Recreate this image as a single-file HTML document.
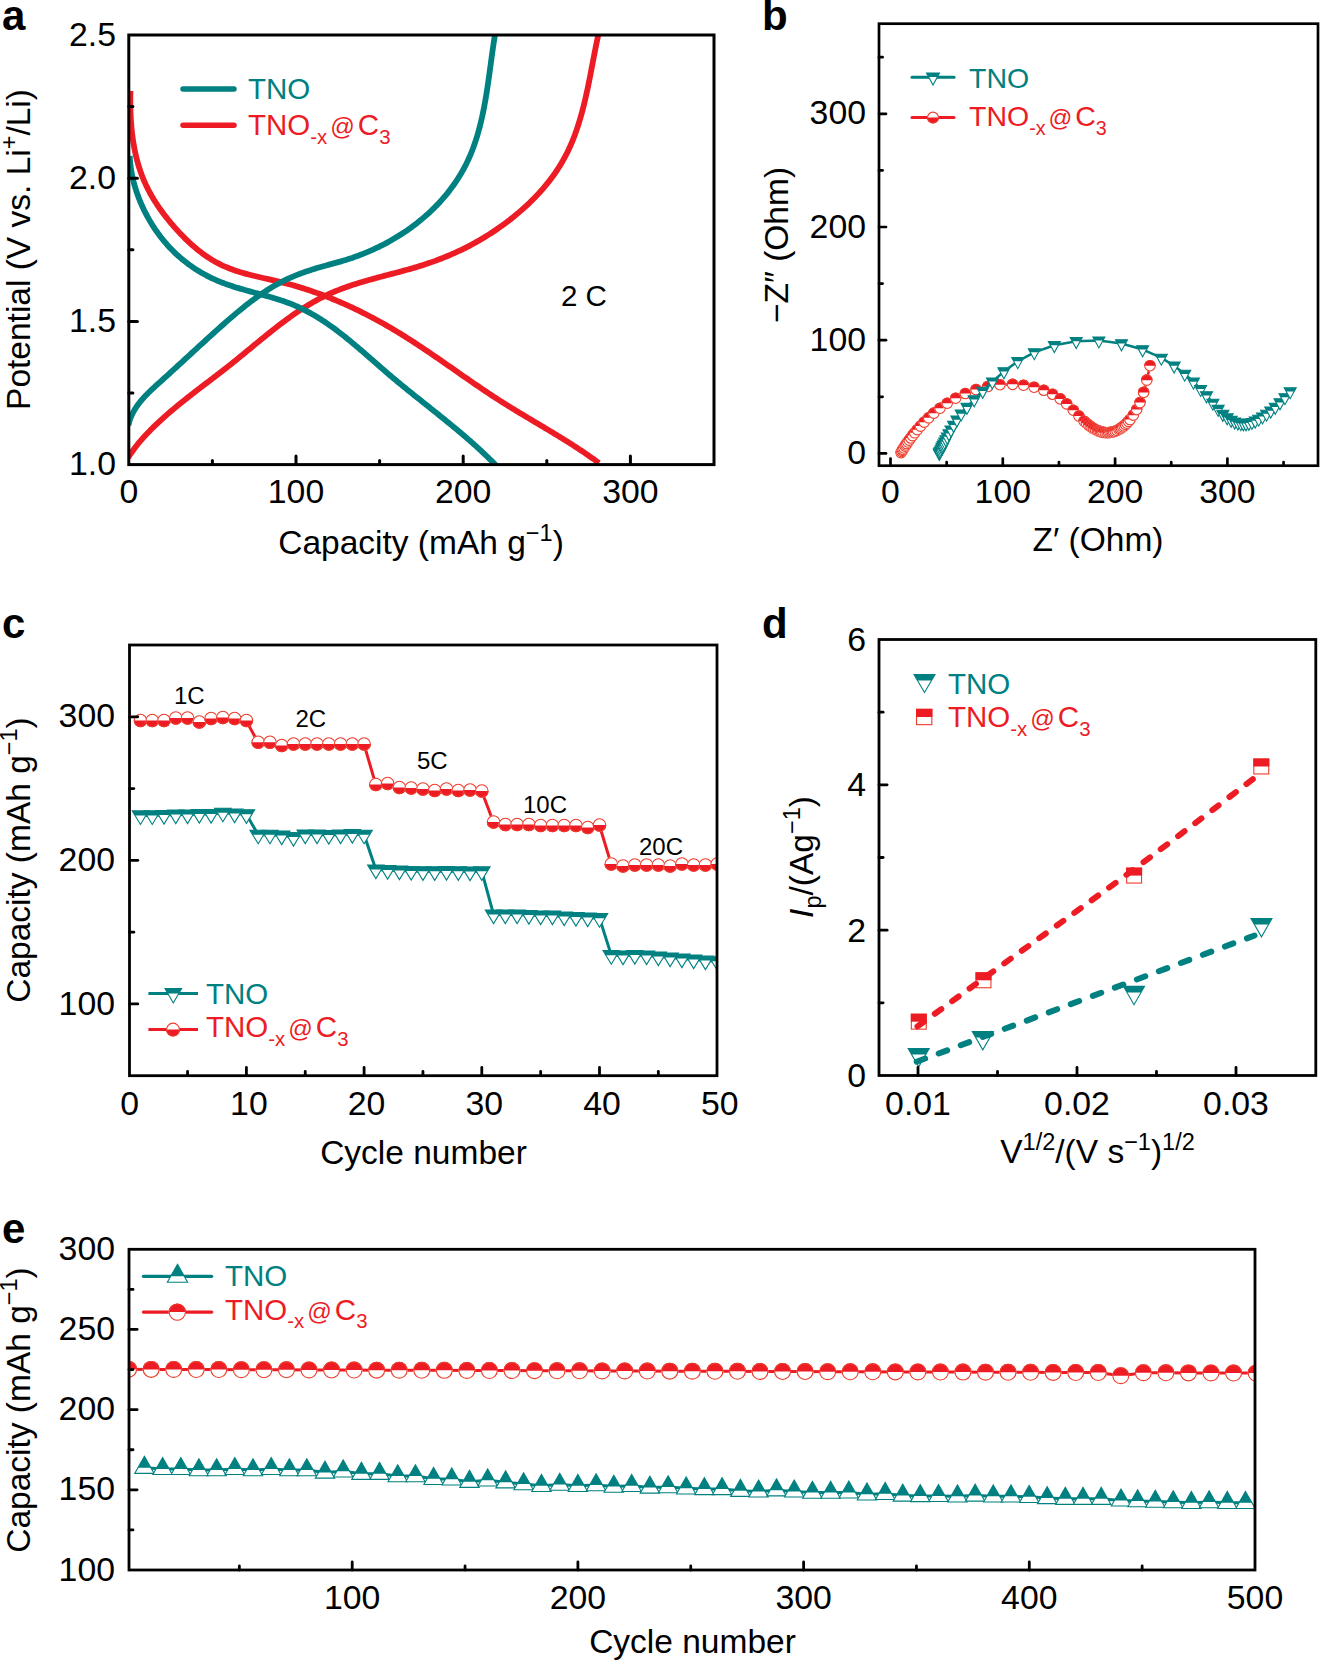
<!DOCTYPE html>
<html><head><meta charset="utf-8"><style>
html,body{margin:0;padding:0;background:#fff;overflow:hidden;}
svg{display:block;}
text{font-family:"Liberation Sans", sans-serif;}
</style></head><body>
<svg width="1320" height="1661" viewBox="0 0 1320 1661">
<defs><clipPath id="ca"><rect x="128.8" y="35" width="585.2" height="429.6"/></clipPath><clipPath id="cb"><rect x="879" y="23.7" width="439" height="442"/></clipPath><clipPath id="cc"><rect x="129.5" y="645" width="587.5" height="430.7"/></clipPath><clipPath id="ce"><rect x="129" y="1249.3" width="1126" height="320.7"/></clipPath></defs>
<g clip-path="url(#ca)"><path d="M130.46,91.00 L130.41,93.08 L130.37,95.17 L130.34,97.26 L130.32,99.37 L130.32,101.48 L130.33,103.59 L130.35,105.71 L130.39,107.84 L130.44,109.97 L130.50,112.11 L130.59,114.24 L130.69,116.38 L130.80,118.53 L130.93,120.67 L131.08,122.82 L131.25,124.96 L131.43,127.11 L131.64,129.25 L131.86,131.40 L132.10,133.54 L132.37,135.68 L132.65,137.82 L132.95,139.95 L133.28,142.08 L133.63,144.20 L134.00,146.32 L134.39,148.44 L134.81,150.55 L135.25,152.65 L135.71,154.74 L136.20,156.83 L136.72,158.90 L137.25,160.97 L137.82,163.03 L138.41,165.08 L139.03,167.11 L139.68,169.14 L140.35,171.15 L141.06,173.15 L141.79,175.14 L142.55,177.12 L143.34,179.08 L144.16,181.02 L145.01,182.95 L145.89,184.87 L146.80,186.77 L147.74,188.66 L148.70,190.53 L149.70,192.39 L150.72,194.24 L151.76,196.07 L152.83,197.89 L153.93,199.70 L155.05,201.50 L156.19,203.28 L157.36,205.05 L158.55,206.80 L159.76,208.55 L160.99,210.29 L162.24,212.01 L163.52,213.72 L164.81,215.42 L166.13,217.11 L167.46,218.79 L168.81,220.46 L170.17,222.12 L171.56,223.77 L172.96,225.41 L174.38,227.04 L175.81,228.66 L177.26,230.27 L178.72,231.86 L180.20,233.45 L181.70,235.01 L183.21,236.56 L184.74,238.10 L186.29,239.62 L187.85,241.11 L189.43,242.59 L191.02,244.05 L192.63,245.49 L194.26,246.90 L195.90,248.29 L197.56,249.65 L199.24,250.99 L200.93,252.30 L202.65,253.58 L204.37,254.83 L206.12,256.05 L207.88,257.24 L209.66,258.40 L211.45,259.53 L213.27,260.62 L215.10,261.67 L216.94,262.69 L218.81,263.67 L220.69,264.61 L222.59,265.52 L224.50,266.38 L226.43,267.21 L228.38,268.01 L230.34,268.77 L232.31,269.51 L234.30,270.21 L236.30,270.89 L238.31,271.54 L240.33,272.16 L242.36,272.77 L244.40,273.36 L246.45,273.92 L248.51,274.47 L250.57,275.00 L252.64,275.53 L254.72,276.03 L256.80,276.53 L258.88,277.02 L260.97,277.51 L263.06,277.98 L265.16,278.46 L267.25,278.93 L269.35,279.41 L271.44,279.88 L273.54,280.36 L275.63,280.84 L277.72,281.33 L279.81,281.83 L281.89,282.34 L283.97,282.87 L286.05,283.40 L288.12,283.95 L290.18,284.51 L292.24,285.08 L294.30,285.66 L296.35,286.26 L298.40,286.87 L300.44,287.48 L302.48,288.12 L304.52,288.76 L306.55,289.41 L308.57,290.08 L310.59,290.76 L312.61,291.45 L314.62,292.15 L316.62,292.86 L318.63,293.58 L320.62,294.32 L322.62,295.06 L324.61,295.82 L326.59,296.58 L328.57,297.36 L330.55,298.15 L332.52,298.94 L334.48,299.75 L336.44,300.57 L338.40,301.40 L340.36,302.24 L342.30,303.08 L344.25,303.94 L346.19,304.81 L348.13,305.69 L350.06,306.58 L351.98,307.47 L353.91,308.38 L355.83,309.29 L357.74,310.22 L359.65,311.15 L361.55,312.10 L363.46,313.05 L365.35,314.01 L367.25,314.98 L369.13,315.96 L371.02,316.95 L372.90,317.94 L374.77,318.94 L376.65,319.96 L378.51,320.98 L380.38,322.01 L382.23,323.04 L384.09,324.09 L385.94,325.14 L387.79,326.20 L389.63,327.27 L391.47,328.35 L393.30,329.43 L395.13,330.52 L396.95,331.62 L398.77,332.72 L400.59,333.84 L402.41,334.96 L404.21,336.08 L406.02,337.21 L407.82,338.35 L409.62,339.50 L411.41,340.65 L413.21,341.81 L414.99,342.97 L416.78,344.14 L418.56,345.31 L420.34,346.49 L422.12,347.67 L423.89,348.85 L425.67,350.04 L427.44,351.24 L429.20,352.43 L430.97,353.63 L432.73,354.84 L434.50,356.05 L436.26,357.25 L438.02,358.47 L439.78,359.68 L441.53,360.90 L443.29,362.11 L445.04,363.33 L446.80,364.55 L448.55,365.77 L450.31,366.99 L452.06,368.22 L453.81,369.44 L455.57,370.66 L457.32,371.88 L459.07,373.11 L460.83,374.33 L462.58,375.55 L464.34,376.77 L466.09,377.99 L467.85,379.20 L469.61,380.42 L471.36,381.63 L473.12,382.84 L474.89,384.05 L476.65,385.26 L478.41,386.46 L480.18,387.66 L481.95,388.86 L483.72,390.05 L485.49,391.24 L487.27,392.42 L489.04,393.60 L490.82,394.78 L492.61,395.95 L494.39,397.12 L496.18,398.28 L497.97,399.43 L499.77,400.58 L501.57,401.73 L503.37,402.87 L505.18,404.00 L506.98,405.13 L508.79,406.25 L510.61,407.37 L512.42,408.49 L514.24,409.60 L516.06,410.70 L517.88,411.81 L519.71,412.91 L521.53,414.01 L523.36,415.10 L525.19,416.20 L527.02,417.29 L528.84,418.38 L530.68,419.47 L532.51,420.56 L534.34,421.65 L536.17,422.74 L538.00,423.83 L539.83,424.92 L541.66,426.01 L543.49,427.10 L545.32,428.19 L547.15,429.28 L548.97,430.38 L550.80,431.48 L552.62,432.58 L554.45,433.68 L556.27,434.78 L558.09,435.89 L559.90,437.01 L561.72,438.12 L563.53,439.24 L565.34,440.37 L567.15,441.50 L568.95,442.64 L570.75,443.78 L572.55,444.92 L574.34,446.08 L576.13,447.24 L577.92,448.40 L579.70,449.58 L581.48,450.76 L583.25,451.94 L585.02,453.14 L586.79,454.34 L588.55,455.55 L590.30,456.78 L592.05,458.01 L593.79,459.24 L595.53,460.49 L597.26,461.75 L598.99,463.02" fill="none" stroke="#ed1c24" stroke-width="5.8" stroke-linejoin="round"/><path d="M128.36,457.42 L129.53,455.52 L130.74,453.65 L131.99,451.81 L133.28,449.99 L134.59,448.20 L135.94,446.43 L137.32,444.68 L138.73,442.95 L140.16,441.25 L141.61,439.56 L143.09,437.89 L144.59,436.25 L146.11,434.61 L147.64,433.00 L149.19,431.40 L150.75,429.81 L152.32,428.24 L153.91,426.68 L155.51,425.13 L157.12,423.60 L158.74,422.08 L160.37,420.57 L162.01,419.07 L163.66,417.58 L165.32,416.10 L166.99,414.63 L168.67,413.17 L170.35,411.72 L172.05,410.28 L173.75,408.85 L175.46,407.42 L177.18,406.00 L178.90,404.59 L180.63,403.19 L182.37,401.79 L184.11,400.39 L185.86,399.00 L187.62,397.62 L189.37,396.24 L191.14,394.86 L192.90,393.49 L194.67,392.12 L196.45,390.75 L198.23,389.38 L200.01,388.02 L201.79,386.66 L203.57,385.29 L205.36,383.93 L207.15,382.57 L208.93,381.21 L210.72,379.84 L212.51,378.48 L214.30,377.11 L216.09,375.74 L217.88,374.37 L219.67,372.99 L221.45,371.61 L223.24,370.23 L225.02,368.84 L226.80,367.45 L228.58,366.05 L230.35,364.65 L232.12,363.24 L233.89,361.82 L235.66,360.40 L237.42,358.98 L239.18,357.55 L240.94,356.11 L242.69,354.67 L244.44,353.23 L246.20,351.79 L247.95,350.35 L249.70,348.90 L251.45,347.46 L253.20,346.02 L254.95,344.57 L256.71,343.13 L258.46,341.69 L260.21,340.25 L261.97,338.82 L263.72,337.39 L265.48,335.96 L267.24,334.54 L269.01,333.12 L270.78,331.71 L272.55,330.31 L274.32,328.91 L276.10,327.53 L277.88,326.15 L279.67,324.78 L281.46,323.41 L283.25,322.06 L285.06,320.72 L286.86,319.39 L288.68,318.08 L290.50,316.77 L292.32,315.48 L294.16,314.20 L296.00,312.93 L297.85,311.68 L299.70,310.45 L301.57,309.23 L303.44,308.03 L305.32,306.84 L307.21,305.68 L309.11,304.53 L311.02,303.40 L312.94,302.28 L314.87,301.19 L316.81,300.12 L318.76,299.07 L320.72,298.04 L322.70,297.04 L324.68,296.05 L326.68,295.09 L328.69,294.16 L330.71,293.24 L332.75,292.36 L334.79,291.49 L336.85,290.65 L338.92,289.82 L341.00,289.02 L343.09,288.24 L345.19,287.48 L347.30,286.73 L349.41,286.00 L351.54,285.29 L353.67,284.59 L355.81,283.90 L357.96,283.23 L360.11,282.57 L362.27,281.92 L364.43,281.29 L366.60,280.66 L368.77,280.04 L370.95,279.43 L373.13,278.83 L375.32,278.24 L377.50,277.64 L379.69,277.06 L381.88,276.48 L384.08,275.90 L386.27,275.32 L388.46,274.74 L390.66,274.17 L392.85,273.59 L395.04,273.01 L397.24,272.43 L399.42,271.85 L401.61,271.26 L403.80,270.67 L405.98,270.07 L408.15,269.46 L410.33,268.85 L412.50,268.23 L414.66,267.60 L416.82,266.96 L418.97,266.30 L421.12,265.64 L423.25,264.96 L425.39,264.27 L427.51,263.57 L429.63,262.85 L431.73,262.12 L433.84,261.37 L435.93,260.60 L438.01,259.83 L440.09,259.03 L442.16,258.22 L444.22,257.40 L446.28,256.56 L448.32,255.71 L450.36,254.84 L452.39,253.96 L454.41,253.06 L456.43,252.14 L458.43,251.21 L460.43,250.27 L462.42,249.31 L464.40,248.33 L466.38,247.34 L468.35,246.33 L470.30,245.31 L472.26,244.27 L474.20,243.21 L476.13,242.14 L478.06,241.05 L479.98,239.94 L481.89,238.82 L483.79,237.68 L485.68,236.53 L487.57,235.36 L489.45,234.17 L491.32,232.97 L493.18,231.75 L495.03,230.51 L496.88,229.26 L498.71,227.99 L500.54,226.70 L502.36,225.39 L504.18,224.07 L505.98,222.73 L507.77,221.38 L509.56,220.00 L511.34,218.61 L513.11,217.21 L514.86,215.78 L516.61,214.34 L518.34,212.88 L520.06,211.41 L521.77,209.92 L523.47,208.41 L525.15,206.89 L526.82,205.35 L528.47,203.79 L530.10,202.22 L531.73,200.63 L533.33,199.03 L534.92,197.41 L536.49,195.77 L538.04,194.12 L539.57,192.45 L541.09,190.77 L542.58,189.07 L544.06,187.36 L545.51,185.63 L546.94,183.89 L548.35,182.13 L549.74,180.35 L551.10,178.56 L552.44,176.76 L553.76,174.94 L555.05,173.11 L556.32,171.26 L557.56,169.40 L558.78,167.52 L559.97,165.63 L561.13,163.72 L562.26,161.80 L563.37,159.87 L564.44,157.92 L565.49,155.96 L566.51,153.98 L567.50,151.99 L568.47,149.99 L569.41,147.98 L570.32,145.95 L571.21,143.92 L572.08,141.87 L572.92,139.81 L573.74,137.74 L574.53,135.66 L575.31,133.57 L576.06,131.47 L576.79,129.36 L577.51,127.24 L578.20,125.12 L578.88,122.99 L579.54,120.84 L580.18,118.70 L580.80,116.54 L581.41,114.38 L582.01,112.21 L582.58,110.04 L583.15,107.86 L583.70,105.67 L584.24,103.49 L584.77,101.29 L585.28,99.09 L585.79,96.89 L586.28,94.69 L586.77,92.48 L587.25,90.27 L587.72,88.06 L588.18,85.85 L588.63,83.63 L589.08,81.41 L589.52,79.20 L589.96,76.98 L590.39,74.76 L590.82,72.55 L591.25,70.33 L591.67,68.11 L592.10,65.90 L592.52,63.69 L592.94,61.48 L593.36,59.27 L593.78,57.07 L594.21,54.86 L594.63,52.67 L595.06,50.47 L595.49,48.28 L595.93,46.10 L596.37,43.92 L596.81,41.74 L597.27,39.58 L597.72,37.41 L598.19,35.26 L598.66,33.11" fill="none" stroke="#ed1c24" stroke-width="5.8" stroke-linejoin="round"/><path d="M129.71,156.00 L129.79,157.61 L129.89,159.22 L130.02,160.84 L130.17,162.46 L130.34,164.08 L130.54,165.70 L130.75,167.32 L130.99,168.94 L131.25,170.57 L131.53,172.19 L131.83,173.81 L132.15,175.44 L132.49,177.06 L132.86,178.68 L133.24,180.30 L133.64,181.92 L134.07,183.53 L134.51,185.14 L134.98,186.76 L135.46,188.36 L135.96,189.97 L136.49,191.57 L137.03,193.17 L137.59,194.76 L138.17,196.35 L138.76,197.93 L139.38,199.51 L140.01,201.08 L140.67,202.65 L141.34,204.21 L142.03,205.76 L142.73,207.31 L143.45,208.85 L144.19,210.39 L144.95,211.91 L145.73,213.43 L146.52,214.94 L147.32,216.44 L148.15,217.93 L148.99,219.42 L149.84,220.89 L150.72,222.35 L151.60,223.81 L152.51,225.25 L153.42,226.68 L154.36,228.11 L155.31,229.52 L156.27,230.92 L157.25,232.30 L158.24,233.68 L159.25,235.04 L160.27,236.39 L161.30,237.73 L162.35,239.05 L163.42,240.36 L164.49,241.65 L165.58,242.93 L166.68,244.20 L167.80,245.45 L168.93,246.68 L170.07,247.90 L171.22,249.11 L172.39,250.30 L173.56,251.47 L174.75,252.63 L175.96,253.77 L177.17,254.89 L178.40,256.00 L179.63,257.09 L180.88,258.17 L182.14,259.23 L183.42,260.28 L184.70,261.30 L186.00,262.32 L187.30,263.32 L188.62,264.30 L189.95,265.26 L191.29,266.21 L192.64,267.15 L194.00,268.06 L195.37,268.97 L196.75,269.85 L198.15,270.72 L199.55,271.58 L200.96,272.42 L202.38,273.24 L203.82,274.04 L205.26,274.83 L206.71,275.61 L208.18,276.37 L209.65,277.11 L211.13,277.83 L212.62,278.54 L214.12,279.24 L215.63,279.92 L217.15,280.58 L218.68,281.22 L220.21,281.85 L221.76,282.47 L223.31,283.07 L224.87,283.65 L226.44,284.22 L228.02,284.78 L229.60,285.33 L231.19,285.86 L232.79,286.38 L234.39,286.89 L236.00,287.40 L237.61,287.89 L239.23,288.38 L240.85,288.86 L242.47,289.33 L244.10,289.79 L245.73,290.25 L247.36,290.71 L249.00,291.16 L250.63,291.61 L252.27,292.06 L253.91,292.50 L255.55,292.95 L257.19,293.39 L258.83,293.84 L260.47,294.28 L262.11,294.73 L263.74,295.18 L265.38,295.63 L267.01,296.09 L268.64,296.55 L270.27,297.02 L271.89,297.49 L273.51,297.97 L275.13,298.46 L276.74,298.96 L278.35,299.46 L279.95,299.98 L281.54,300.50 L283.13,301.04 L284.72,301.59 L286.29,302.15 L287.86,302.72 L289.42,303.31 L290.98,303.92 L292.52,304.53 L294.06,305.17 L295.59,305.82 L297.11,306.49 L298.62,307.17 L300.12,307.86 L301.61,308.58 L303.10,309.30 L304.58,310.04 L306.05,310.80 L307.51,311.57 L308.96,312.35 L310.41,313.15 L311.85,313.96 L313.29,314.78 L314.71,315.61 L316.13,316.46 L317.55,317.32 L318.95,318.19 L320.36,319.07 L321.75,319.97 L323.14,320.87 L324.52,321.78 L325.90,322.71 L327.27,323.64 L328.64,324.59 L330.00,325.54 L331.35,326.51 L332.71,327.48 L334.05,328.46 L335.39,329.45 L336.73,330.44 L338.06,331.45 L339.39,332.46 L340.72,333.48 L342.04,334.51 L343.35,335.54 L344.67,336.58 L345.98,337.63 L347.28,338.68 L348.59,339.74 L349.89,340.80 L351.18,341.87 L352.48,342.95 L353.77,344.02 L355.06,345.11 L356.35,346.19 L357.63,347.28 L358.92,348.37 L360.20,349.47 L361.48,350.57 L362.76,351.67 L364.03,352.78 L365.31,353.88 L366.58,354.99 L367.86,356.10 L369.13,357.21 L370.40,358.32 L371.67,359.43 L372.95,360.55 L374.22,361.66 L375.49,362.77 L376.76,363.88 L378.03,364.99 L379.30,366.10 L380.57,367.21 L381.85,368.32 L383.12,369.43 L384.40,370.53 L385.67,371.63 L386.95,372.73 L388.23,373.83 L389.51,374.92 L390.79,376.01 L392.07,377.10 L393.36,378.18 L394.65,379.26 L395.93,380.33 L397.22,381.41 L398.51,382.48 L399.81,383.54 L401.10,384.61 L402.40,385.67 L403.69,386.73 L404.99,387.79 L406.29,388.84 L407.58,389.90 L408.88,390.95 L410.18,392.00 L411.48,393.05 L412.79,394.09 L414.09,395.14 L415.39,396.18 L416.69,397.22 L418.00,398.27 L419.30,399.31 L420.60,400.35 L421.91,401.39 L423.21,402.42 L424.51,403.46 L425.82,404.50 L427.12,405.54 L428.42,406.57 L429.72,407.61 L431.02,408.65 L432.33,409.69 L433.63,410.72 L434.93,411.76 L436.23,412.80 L437.52,413.84 L438.82,414.88 L440.12,415.92 L441.41,416.96 L442.71,418.01 L444.00,419.05 L445.29,420.10 L446.58,421.15 L447.87,422.20 L449.16,423.25 L450.45,424.30 L451.73,425.36 L453.02,426.42 L454.30,427.48 L455.58,428.54 L456.86,429.60 L458.13,430.67 L459.41,431.74 L460.68,432.82 L461.95,433.89 L463.21,434.97 L464.48,436.05 L465.74,437.14 L467.00,438.23 L468.26,439.32 L469.51,440.42 L470.77,441.52 L472.02,442.62 L473.26,443.73 L474.51,444.85 L475.75,445.96 L476.99,447.08 L478.22,448.21 L479.45,449.34 L480.68,450.48 L481.91,451.62 L483.13,452.76 L484.35,453.91 L485.56,455.07 L486.77,456.23 L487.98,457.40 L489.18,458.57 L490.38,459.75 L491.58,460.93 L492.77,462.12 L493.96,463.32 L495.14,464.52 L496.32,465.73" fill="none" stroke="#008080" stroke-width="5.8" stroke-linejoin="round"/><path d="M128.36,425.33 L128.79,423.48 L129.30,421.66 L129.87,419.87 L130.50,418.13 L131.20,416.41 L131.95,414.73 L132.76,413.09 L133.63,411.47 L134.54,409.88 L135.51,408.32 L136.52,406.78 L137.58,405.27 L138.67,403.78 L139.81,402.32 L140.99,400.87 L142.20,399.45 L143.44,398.04 L144.71,396.65 L146.01,395.27 L147.33,393.91 L148.68,392.56 L150.04,391.23 L151.42,389.90 L152.82,388.58 L154.23,387.27 L155.66,385.97 L157.09,384.67 L158.52,383.37 L159.96,382.08 L161.40,380.78 L162.84,379.49 L164.27,378.19 L165.70,376.90 L167.13,375.60 L168.56,374.30 L169.99,373.00 L171.42,371.71 L172.84,370.41 L174.26,369.11 L175.68,367.81 L177.10,366.50 L178.52,365.20 L179.94,363.90 L181.36,362.60 L182.78,361.30 L184.19,360.00 L185.61,358.69 L187.02,357.39 L188.44,356.09 L189.85,354.79 L191.27,353.49 L192.68,352.18 L194.10,350.88 L195.52,349.58 L196.93,348.28 L198.35,346.98 L199.77,345.68 L201.19,344.38 L202.61,343.08 L204.03,341.79 L205.45,340.49 L206.87,339.19 L208.30,337.90 L209.73,336.60 L211.16,335.31 L212.59,334.02 L214.02,332.73 L215.45,331.44 L216.89,330.15 L218.33,328.86 L219.77,327.57 L221.21,326.29 L222.66,325.00 L224.11,323.72 L225.56,322.44 L227.02,321.17 L228.48,319.89 L229.94,318.62 L231.41,317.36 L232.88,316.10 L234.35,314.84 L235.83,313.60 L237.31,312.35 L238.80,311.12 L240.30,309.89 L241.79,308.67 L243.30,307.45 L244.81,306.25 L246.32,305.05 L247.84,303.87 L249.37,302.69 L250.90,301.52 L252.44,300.37 L253.99,299.22 L255.54,298.09 L257.10,296.97 L258.66,295.86 L260.24,294.77 L261.82,293.69 L263.41,292.62 L265.01,291.57 L266.61,290.53 L268.22,289.51 L269.84,288.50 L271.47,287.51 L273.11,286.54 L274.76,285.59 L276.42,284.65 L278.08,283.73 L279.76,282.83 L281.44,281.95 L283.14,281.09 L284.84,280.24 L286.56,279.42 L288.29,278.62 L290.02,277.84 L291.76,277.08 L293.52,276.33 L295.28,275.61 L297.05,274.90 L298.83,274.21 L300.61,273.53 L302.41,272.87 L304.21,272.23 L306.01,271.60 L307.83,270.98 L309.64,270.38 L311.47,269.79 L313.30,269.21 L315.13,268.64 L316.97,268.08 L318.81,267.53 L320.65,267.00 L322.50,266.47 L324.35,265.95 L326.20,265.43 L328.06,264.92 L329.91,264.42 L331.77,263.91 L333.63,263.41 L335.48,262.90 L337.34,262.39 L339.19,261.86 L341.05,261.34 L342.90,260.79 L344.74,260.24 L346.59,259.67 L348.43,259.09 L350.26,258.49 L352.09,257.88 L353.92,257.25 L355.74,256.60 L357.56,255.94 L359.37,255.27 L361.17,254.57 L362.98,253.87 L364.77,253.14 L366.56,252.41 L368.34,251.65 L370.12,250.89 L371.89,250.10 L373.65,249.31 L375.41,248.49 L377.16,247.67 L378.90,246.82 L380.64,245.97 L382.36,245.09 L384.08,244.21 L385.79,243.31 L387.50,242.39 L389.19,241.46 L390.88,240.51 L392.55,239.55 L394.22,238.58 L395.88,237.59 L397.53,236.59 L399.17,235.57 L400.80,234.54 L402.42,233.49 L404.02,232.43 L405.62,231.36 L407.21,230.27 L408.79,229.17 L410.35,228.06 L411.91,226.93 L413.45,225.78 L414.98,224.62 L416.50,223.45 L418.01,222.27 L419.50,221.07 L420.99,219.86 L422.46,218.63 L423.91,217.39 L425.36,216.14 L426.79,214.88 L428.21,213.60 L429.61,212.30 L431.00,211.00 L432.37,209.68 L433.74,208.35 L435.08,207.00 L436.42,205.64 L437.73,204.27 L439.04,202.89 L440.32,201.49 L441.59,200.08 L442.85,198.65 L444.09,197.22 L445.31,195.77 L446.52,194.31 L447.71,192.83 L448.89,191.35 L450.05,189.85 L451.19,188.34 L452.31,186.81 L453.42,185.28 L454.51,183.73 L455.58,182.17 L456.63,180.59 L457.66,179.01 L458.68,177.41 L459.68,175.80 L460.66,174.18 L461.62,172.54 L462.56,170.90 L463.48,169.24 L464.38,167.57 L465.26,165.89 L466.12,164.20 L466.96,162.49 L467.78,160.78 L468.58,159.05 L469.36,157.31 L470.12,155.56 L470.86,153.80 L471.58,152.02 L472.28,150.24 L472.97,148.45 L473.63,146.65 L474.28,144.84 L474.91,143.02 L475.52,141.19 L476.12,139.35 L476.70,137.51 L477.26,135.66 L477.81,133.80 L478.34,131.93 L478.86,130.06 L479.37,128.18 L479.86,126.30 L480.33,124.41 L480.80,122.51 L481.25,120.61 L481.69,118.71 L482.12,116.80 L482.53,114.88 L482.94,112.97 L483.33,111.05 L483.72,109.12 L484.09,107.20 L484.46,105.27 L484.81,103.34 L485.16,101.40 L485.50,99.47 L485.83,97.53 L486.15,95.60 L486.47,93.66 L486.78,91.73 L487.08,89.79 L487.38,87.85 L487.67,85.92 L487.96,83.99 L488.24,82.05 L488.52,80.12 L488.79,78.20 L489.06,76.27 L489.33,74.35 L489.59,72.43 L489.85,70.51 L490.11,68.60 L490.37,66.69 L490.63,64.78 L490.88,62.89 L491.14,60.99 L491.40,59.10 L491.65,57.22 L491.91,55.34 L492.17,53.47 L492.43,51.61 L492.69,49.75 L492.95,47.90 L493.22,46.06 L493.49,44.22 L493.76,42.40 L494.04,40.58 L494.32,38.77 L494.61,36.97 L494.90,35.18 L495.20,33.40" fill="none" stroke="#008080" stroke-width="5.8" stroke-linejoin="round"/></g>
<rect x="128.8" y="35" width="585.2" height="429.6" fill="none" stroke="#000" stroke-width="3"/>
<line x1="296" y1="464.6" x2="296" y2="456" stroke="#000" stroke-width="3" stroke-linecap="round"/>
<line x1="463.2" y1="464.6" x2="463.2" y2="456" stroke="#000" stroke-width="3" stroke-linecap="round"/>
<line x1="630.4" y1="464.6" x2="630.4" y2="456" stroke="#000" stroke-width="3" stroke-linecap="round"/>
<line x1="212.4" y1="464.6" x2="212.4" y2="460.5" stroke="#000" stroke-width="3" stroke-linecap="round"/>
<line x1="379.6" y1="464.6" x2="379.6" y2="460.5" stroke="#000" stroke-width="3" stroke-linecap="round"/>
<line x1="546.8" y1="464.6" x2="546.8" y2="460.5" stroke="#000" stroke-width="3" stroke-linecap="round"/>
<line x1="128.8" y1="321.4" x2="137.4" y2="321.4" stroke="#000" stroke-width="3" stroke-linecap="round"/>
<line x1="128.8" y1="178.2" x2="137.4" y2="178.2" stroke="#000" stroke-width="3" stroke-linecap="round"/>
<line x1="128.8" y1="393" x2="132.9" y2="393" stroke="#000" stroke-width="3" stroke-linecap="round"/>
<line x1="128.8" y1="249.8" x2="132.9" y2="249.8" stroke="#000" stroke-width="3" stroke-linecap="round"/>
<line x1="128.8" y1="106.6" x2="132.9" y2="106.6" stroke="#000" stroke-width="3" stroke-linecap="round"/>
<text x="128.8" y="503" font-size="33.8" text-anchor="middle" fill="#000" >0</text>
<text x="296" y="503" font-size="33.8" text-anchor="middle" fill="#000" >100</text>
<text x="463.2" y="503" font-size="33.8" text-anchor="middle" fill="#000" >200</text>
<text x="630.4" y="503" font-size="33.8" text-anchor="middle" fill="#000" >300</text>
<text x="116" y="475.2" font-size="33.8" text-anchor="end" fill="#000" >1.0</text>
<text x="116" y="332" font-size="33.8" text-anchor="end" fill="#000" >1.5</text>
<text x="116" y="188.8" font-size="33.8" text-anchor="end" fill="#000" >2.0</text>
<text x="116" y="45.6" font-size="33.8" text-anchor="end" fill="#000" >2.5</text>
<text x="421" y="553.8" font-size="33.5" text-anchor="middle">Capacity (mAh g<tspan dy="-13" font-size="23.5">−1</tspan><tspan dy="13">)</tspan></text>
<text transform="translate(30.1,249.5) rotate(-90)" font-size="33.5" text-anchor="middle">Potential (V vs. Li<tspan dy="-13" font-size="23.5">+</tspan><tspan dy="13">/Li)</tspan></text>
<line x1="183" y1="89.1" x2="234" y2="89.1" stroke="#008080" stroke-width="5.5" stroke-linecap="round"/>
<line x1="183" y1="125.2" x2="234" y2="125.2" stroke="#ed1c24" stroke-width="5.5" stroke-linecap="round"/>
<text x="248" y="98.5" font-size="29.5" text-anchor="start" fill="#008080" >TNO</text>
<text x="248" y="134.8" font-size="29.5" text-anchor="start" fill="#ed1c24" >TNO<tspan dy="8.8" font-size="20.4">-x</tspan><tspan dy="-8.8" dx="3.0" font-size="24.2">@</tspan><tspan dx="3.0">C</tspan><tspan dy="8.8" font-size="20.4">3</tspan></text>
<text x="561" y="306" font-size="29.5" text-anchor="start" fill="#000" >2 C</text>
<g clip-path="url(#cb)"><path d="M901.14,452.64 L901.8,451.51 L902.53,450.29 L903.13,449.31 L903.97,447.96 L905.15,446.1 L905.91,444.93 L906.82,443.57 L907.9,441.99 L909.19,440.15 L910.73,438.03 L912.56,435.6 L914.75,432.82 L917.36,429.66 L920.49,426.11 L924.21,422.16 L928.63,417.83 L933.87,413.16 L940.03,408.25 L947.23,403.23 L955.69,398.2 L965.31,393.55 L976.03,389.57 L987.68,386.56 L999.98,384.76 L1012.59,384.34 L1023.51,385.2 L1034.01,387.21 L1043.78,390.3 L1052.57,394.28 L1060.22,398.92 L1066.68,403.92 L1073.29,410.25 L1078.95,416.12 L1084.06,421.19 L1086.44,423.25 L1088.82,425.3 L1091.06,426.86 L1093.29,428.42 L1095.36,429.51 L1097.43,430.6 L1098.92,431.16 L1100.41,431.72 L1101.72,432.04 L1103.02,432.36 L1105.26,432.65 L1107.14,432.71 L1108.71,432.64 L1110.04,432.5 L1111.24,432.3 L1112.43,432.04 L1113.73,431.69 L1115.24,431.18 L1117,430.44 L1119.06,429.38 L1120.23,428.63 L1121.4,427.89 L1122.72,426.87 L1124.04,425.85 L1125.48,424.49 L1126.93,423.13 L1128.48,421.37 L1130.04,419.61 L1133.33,415.13 L1136.7,409.51 L1140.02,402.56 L1143.63,392.41 L1146.78,380.16 L1150,365.69" fill="none" stroke="#ed1c24" stroke-width="2.5"/><circle cx="901.14" cy="452.64" r="5.8" fill="#fff"/><path d="M895.34,452.64 A5.8,5.8 0 0 1 906.94,452.64 Z" fill="#ed1c24"/><circle cx="901.14" cy="452.64" r="5.25" fill="none" stroke="#ee3b2b" stroke-width="1.1"/><circle cx="901.8" cy="451.51" r="5.8" fill="#fff"/><path d="M896,451.51 A5.8,5.8 0 0 1 907.6,451.51 Z" fill="#ed1c24"/><circle cx="901.8" cy="451.51" r="5.25" fill="none" stroke="#ee3b2b" stroke-width="1.1"/><circle cx="902.53" cy="450.29" r="5.8" fill="#fff"/><path d="M896.73,450.29 A5.8,5.8 0 0 1 908.33,450.29 Z" fill="#ed1c24"/><circle cx="902.53" cy="450.29" r="5.25" fill="none" stroke="#ee3b2b" stroke-width="1.1"/><circle cx="903.13" cy="449.31" r="5.8" fill="#fff"/><path d="M897.33,449.31 A5.8,5.8 0 0 1 908.93,449.31 Z" fill="#ed1c24"/><circle cx="903.13" cy="449.31" r="5.25" fill="none" stroke="#ee3b2b" stroke-width="1.1"/><circle cx="903.97" cy="447.96" r="5.8" fill="#fff"/><path d="M898.17,447.96 A5.8,5.8 0 0 1 909.77,447.96 Z" fill="#ed1c24"/><circle cx="903.97" cy="447.96" r="5.25" fill="none" stroke="#ee3b2b" stroke-width="1.1"/><circle cx="905.15" cy="446.1" r="5.8" fill="#fff"/><path d="M899.35,446.1 A5.8,5.8 0 0 1 910.95,446.1 Z" fill="#ed1c24"/><circle cx="905.15" cy="446.1" r="5.25" fill="none" stroke="#ee3b2b" stroke-width="1.1"/><circle cx="905.91" cy="444.93" r="5.8" fill="#fff"/><path d="M900.11,444.93 A5.8,5.8 0 0 1 911.71,444.93 Z" fill="#ed1c24"/><circle cx="905.91" cy="444.93" r="5.25" fill="none" stroke="#ee3b2b" stroke-width="1.1"/><circle cx="906.82" cy="443.57" r="5.8" fill="#fff"/><path d="M901.02,443.57 A5.8,5.8 0 0 1 912.62,443.57 Z" fill="#ed1c24"/><circle cx="906.82" cy="443.57" r="5.25" fill="none" stroke="#ee3b2b" stroke-width="1.1"/><circle cx="907.9" cy="441.99" r="5.8" fill="#fff"/><path d="M902.1,441.99 A5.8,5.8 0 0 1 913.7,441.99 Z" fill="#ed1c24"/><circle cx="907.9" cy="441.99" r="5.25" fill="none" stroke="#ee3b2b" stroke-width="1.1"/><circle cx="909.19" cy="440.15" r="5.8" fill="#fff"/><path d="M903.39,440.15 A5.8,5.8 0 0 1 914.99,440.15 Z" fill="#ed1c24"/><circle cx="909.19" cy="440.15" r="5.25" fill="none" stroke="#ee3b2b" stroke-width="1.1"/><circle cx="910.73" cy="438.03" r="5.8" fill="#fff"/><path d="M904.93,438.03 A5.8,5.8 0 0 1 916.53,438.03 Z" fill="#ed1c24"/><circle cx="910.73" cy="438.03" r="5.25" fill="none" stroke="#ee3b2b" stroke-width="1.1"/><circle cx="912.56" cy="435.6" r="5.8" fill="#fff"/><path d="M906.76,435.6 A5.8,5.8 0 0 1 918.36,435.6 Z" fill="#ed1c24"/><circle cx="912.56" cy="435.6" r="5.25" fill="none" stroke="#ee3b2b" stroke-width="1.1"/><circle cx="914.75" cy="432.82" r="5.8" fill="#fff"/><path d="M908.95,432.82 A5.8,5.8 0 0 1 920.55,432.82 Z" fill="#ed1c24"/><circle cx="914.75" cy="432.82" r="5.25" fill="none" stroke="#ee3b2b" stroke-width="1.1"/><circle cx="917.36" cy="429.66" r="5.8" fill="#fff"/><path d="M911.56,429.66 A5.8,5.8 0 0 1 923.16,429.66 Z" fill="#ed1c24"/><circle cx="917.36" cy="429.66" r="5.25" fill="none" stroke="#ee3b2b" stroke-width="1.1"/><circle cx="920.49" cy="426.11" r="5.8" fill="#fff"/><path d="M914.69,426.11 A5.8,5.8 0 0 1 926.29,426.11 Z" fill="#ed1c24"/><circle cx="920.49" cy="426.11" r="5.25" fill="none" stroke="#ee3b2b" stroke-width="1.1"/><circle cx="924.21" cy="422.16" r="5.8" fill="#fff"/><path d="M918.41,422.16 A5.8,5.8 0 0 1 930.01,422.16 Z" fill="#ed1c24"/><circle cx="924.21" cy="422.16" r="5.25" fill="none" stroke="#ee3b2b" stroke-width="1.1"/><circle cx="928.63" cy="417.83" r="5.8" fill="#fff"/><path d="M922.83,417.83 A5.8,5.8 0 0 1 934.43,417.83 Z" fill="#ed1c24"/><circle cx="928.63" cy="417.83" r="5.25" fill="none" stroke="#ee3b2b" stroke-width="1.1"/><circle cx="933.87" cy="413.16" r="5.8" fill="#fff"/><path d="M928.07,413.16 A5.8,5.8 0 0 1 939.67,413.16 Z" fill="#ed1c24"/><circle cx="933.87" cy="413.16" r="5.25" fill="none" stroke="#ee3b2b" stroke-width="1.1"/><circle cx="940.03" cy="408.25" r="5.8" fill="#fff"/><path d="M934.23,408.25 A5.8,5.8 0 0 1 945.83,408.25 Z" fill="#ed1c24"/><circle cx="940.03" cy="408.25" r="5.25" fill="none" stroke="#ee3b2b" stroke-width="1.1"/><circle cx="947.23" cy="403.23" r="5.8" fill="#fff"/><path d="M941.43,403.23 A5.8,5.8 0 0 1 953.03,403.23 Z" fill="#ed1c24"/><circle cx="947.23" cy="403.23" r="5.25" fill="none" stroke="#ee3b2b" stroke-width="1.1"/><circle cx="955.69" cy="398.2" r="5.8" fill="#fff"/><path d="M949.89,398.2 A5.8,5.8 0 0 1 961.49,398.2 Z" fill="#ed1c24"/><circle cx="955.69" cy="398.2" r="5.25" fill="none" stroke="#ee3b2b" stroke-width="1.1"/><circle cx="965.31" cy="393.55" r="5.8" fill="#fff"/><path d="M959.51,393.55 A5.8,5.8 0 0 1 971.11,393.55 Z" fill="#ed1c24"/><circle cx="965.31" cy="393.55" r="5.25" fill="none" stroke="#ee3b2b" stroke-width="1.1"/><circle cx="976.03" cy="389.57" r="5.8" fill="#fff"/><path d="M970.23,389.57 A5.8,5.8 0 0 1 981.83,389.57 Z" fill="#ed1c24"/><circle cx="976.03" cy="389.57" r="5.25" fill="none" stroke="#ee3b2b" stroke-width="1.1"/><circle cx="987.68" cy="386.56" r="5.8" fill="#fff"/><path d="M981.88,386.56 A5.8,5.8 0 0 1 993.48,386.56 Z" fill="#ed1c24"/><circle cx="987.68" cy="386.56" r="5.25" fill="none" stroke="#ee3b2b" stroke-width="1.1"/><circle cx="999.98" cy="384.76" r="5.8" fill="#fff"/><path d="M994.18,384.76 A5.8,5.8 0 0 1 1005.78,384.76 Z" fill="#ed1c24"/><circle cx="999.98" cy="384.76" r="5.25" fill="none" stroke="#ee3b2b" stroke-width="1.1"/><circle cx="1012.59" cy="384.34" r="5.8" fill="#fff"/><path d="M1006.79,384.34 A5.8,5.8 0 0 1 1018.39,384.34 Z" fill="#ed1c24"/><circle cx="1012.59" cy="384.34" r="5.25" fill="none" stroke="#ee3b2b" stroke-width="1.1"/><circle cx="1023.51" cy="385.2" r="5.8" fill="#fff"/><path d="M1017.71,385.2 A5.8,5.8 0 0 1 1029.31,385.2 Z" fill="#ed1c24"/><circle cx="1023.51" cy="385.2" r="5.25" fill="none" stroke="#ee3b2b" stroke-width="1.1"/><circle cx="1034.01" cy="387.21" r="5.8" fill="#fff"/><path d="M1028.21,387.21 A5.8,5.8 0 0 1 1039.81,387.21 Z" fill="#ed1c24"/><circle cx="1034.01" cy="387.21" r="5.25" fill="none" stroke="#ee3b2b" stroke-width="1.1"/><circle cx="1043.78" cy="390.3" r="5.8" fill="#fff"/><path d="M1037.98,390.3 A5.8,5.8 0 0 1 1049.58,390.3 Z" fill="#ed1c24"/><circle cx="1043.78" cy="390.3" r="5.25" fill="none" stroke="#ee3b2b" stroke-width="1.1"/><circle cx="1052.57" cy="394.28" r="5.8" fill="#fff"/><path d="M1046.77,394.28 A5.8,5.8 0 0 1 1058.37,394.28 Z" fill="#ed1c24"/><circle cx="1052.57" cy="394.28" r="5.25" fill="none" stroke="#ee3b2b" stroke-width="1.1"/><circle cx="1060.22" cy="398.92" r="5.8" fill="#fff"/><path d="M1054.42,398.92 A5.8,5.8 0 0 1 1066.02,398.92 Z" fill="#ed1c24"/><circle cx="1060.22" cy="398.92" r="5.25" fill="none" stroke="#ee3b2b" stroke-width="1.1"/><circle cx="1066.68" cy="403.92" r="5.8" fill="#fff"/><path d="M1060.88,403.92 A5.8,5.8 0 0 1 1072.48,403.92 Z" fill="#ed1c24"/><circle cx="1066.68" cy="403.92" r="5.25" fill="none" stroke="#ee3b2b" stroke-width="1.1"/><circle cx="1073.29" cy="410.25" r="5.8" fill="#fff"/><path d="M1067.49,410.25 A5.8,5.8 0 0 1 1079.09,410.25 Z" fill="#ed1c24"/><circle cx="1073.29" cy="410.25" r="5.25" fill="none" stroke="#ee3b2b" stroke-width="1.1"/><circle cx="1078.95" cy="416.12" r="5.8" fill="#fff"/><path d="M1073.15,416.12 A5.8,5.8 0 0 1 1084.75,416.12 Z" fill="#ed1c24"/><circle cx="1078.95" cy="416.12" r="5.25" fill="none" stroke="#ee3b2b" stroke-width="1.1"/><circle cx="1084.06" cy="421.19" r="5.8" fill="#fff"/><path d="M1078.26,421.19 A5.8,5.8 0 0 1 1089.86,421.19 Z" fill="#ed1c24"/><circle cx="1084.06" cy="421.19" r="5.25" fill="none" stroke="#ee3b2b" stroke-width="1.1"/><circle cx="1086.44" cy="423.25" r="5.8" fill="#fff"/><path d="M1080.64,423.25 A5.8,5.8 0 0 1 1092.24,423.25 Z" fill="#ed1c24"/><circle cx="1086.44" cy="423.25" r="5.25" fill="none" stroke="#ee3b2b" stroke-width="1.1"/><circle cx="1088.82" cy="425.3" r="5.8" fill="#fff"/><path d="M1083.02,425.3 A5.8,5.8 0 0 1 1094.62,425.3 Z" fill="#ed1c24"/><circle cx="1088.82" cy="425.3" r="5.25" fill="none" stroke="#ee3b2b" stroke-width="1.1"/><circle cx="1091.06" cy="426.86" r="5.8" fill="#fff"/><path d="M1085.26,426.86 A5.8,5.8 0 0 1 1096.86,426.86 Z" fill="#ed1c24"/><circle cx="1091.06" cy="426.86" r="5.25" fill="none" stroke="#ee3b2b" stroke-width="1.1"/><circle cx="1093.29" cy="428.42" r="5.8" fill="#fff"/><path d="M1087.49,428.42 A5.8,5.8 0 0 1 1099.09,428.42 Z" fill="#ed1c24"/><circle cx="1093.29" cy="428.42" r="5.25" fill="none" stroke="#ee3b2b" stroke-width="1.1"/><circle cx="1095.36" cy="429.51" r="5.8" fill="#fff"/><path d="M1089.56,429.51 A5.8,5.8 0 0 1 1101.16,429.51 Z" fill="#ed1c24"/><circle cx="1095.36" cy="429.51" r="5.25" fill="none" stroke="#ee3b2b" stroke-width="1.1"/><circle cx="1097.43" cy="430.6" r="5.8" fill="#fff"/><path d="M1091.63,430.6 A5.8,5.8 0 0 1 1103.23,430.6 Z" fill="#ed1c24"/><circle cx="1097.43" cy="430.6" r="5.25" fill="none" stroke="#ee3b2b" stroke-width="1.1"/><circle cx="1098.92" cy="431.16" r="5.8" fill="#fff"/><path d="M1093.12,431.16 A5.8,5.8 0 0 1 1104.72,431.16 Z" fill="#ed1c24"/><circle cx="1098.92" cy="431.16" r="5.25" fill="none" stroke="#ee3b2b" stroke-width="1.1"/><circle cx="1100.41" cy="431.72" r="5.8" fill="#fff"/><path d="M1094.61,431.72 A5.8,5.8 0 0 1 1106.21,431.72 Z" fill="#ed1c24"/><circle cx="1100.41" cy="431.72" r="5.25" fill="none" stroke="#ee3b2b" stroke-width="1.1"/><circle cx="1101.72" cy="432.04" r="5.8" fill="#fff"/><path d="M1095.92,432.04 A5.8,5.8 0 0 1 1107.52,432.04 Z" fill="#ed1c24"/><circle cx="1101.72" cy="432.04" r="5.25" fill="none" stroke="#ee3b2b" stroke-width="1.1"/><circle cx="1103.02" cy="432.36" r="5.8" fill="#fff"/><path d="M1097.22,432.36 A5.8,5.8 0 0 1 1108.82,432.36 Z" fill="#ed1c24"/><circle cx="1103.02" cy="432.36" r="5.25" fill="none" stroke="#ee3b2b" stroke-width="1.1"/><circle cx="1105.26" cy="432.65" r="5.8" fill="#fff"/><path d="M1099.46,432.65 A5.8,5.8 0 0 1 1111.06,432.65 Z" fill="#ed1c24"/><circle cx="1105.26" cy="432.65" r="5.25" fill="none" stroke="#ee3b2b" stroke-width="1.1"/><circle cx="1107.14" cy="432.71" r="5.8" fill="#fff"/><path d="M1101.34,432.71 A5.8,5.8 0 0 1 1112.94,432.71 Z" fill="#ed1c24"/><circle cx="1107.14" cy="432.71" r="5.25" fill="none" stroke="#ee3b2b" stroke-width="1.1"/><circle cx="1108.71" cy="432.64" r="5.8" fill="#fff"/><path d="M1102.91,432.64 A5.8,5.8 0 0 1 1114.51,432.64 Z" fill="#ed1c24"/><circle cx="1108.71" cy="432.64" r="5.25" fill="none" stroke="#ee3b2b" stroke-width="1.1"/><circle cx="1110.04" cy="432.5" r="5.8" fill="#fff"/><path d="M1104.24,432.5 A5.8,5.8 0 0 1 1115.84,432.5 Z" fill="#ed1c24"/><circle cx="1110.04" cy="432.5" r="5.25" fill="none" stroke="#ee3b2b" stroke-width="1.1"/><circle cx="1111.24" cy="432.3" r="5.8" fill="#fff"/><path d="M1105.44,432.3 A5.8,5.8 0 0 1 1117.04,432.3 Z" fill="#ed1c24"/><circle cx="1111.24" cy="432.3" r="5.25" fill="none" stroke="#ee3b2b" stroke-width="1.1"/><circle cx="1112.43" cy="432.04" r="5.8" fill="#fff"/><path d="M1106.63,432.04 A5.8,5.8 0 0 1 1118.23,432.04 Z" fill="#ed1c24"/><circle cx="1112.43" cy="432.04" r="5.25" fill="none" stroke="#ee3b2b" stroke-width="1.1"/><circle cx="1113.73" cy="431.69" r="5.8" fill="#fff"/><path d="M1107.93,431.69 A5.8,5.8 0 0 1 1119.53,431.69 Z" fill="#ed1c24"/><circle cx="1113.73" cy="431.69" r="5.25" fill="none" stroke="#ee3b2b" stroke-width="1.1"/><circle cx="1115.24" cy="431.18" r="5.8" fill="#fff"/><path d="M1109.44,431.18 A5.8,5.8 0 0 1 1121.04,431.18 Z" fill="#ed1c24"/><circle cx="1115.24" cy="431.18" r="5.25" fill="none" stroke="#ee3b2b" stroke-width="1.1"/><circle cx="1117" cy="430.44" r="5.8" fill="#fff"/><path d="M1111.2,430.44 A5.8,5.8 0 0 1 1122.8,430.44 Z" fill="#ed1c24"/><circle cx="1117" cy="430.44" r="5.25" fill="none" stroke="#ee3b2b" stroke-width="1.1"/><circle cx="1119.06" cy="429.38" r="5.8" fill="#fff"/><path d="M1113.26,429.38 A5.8,5.8 0 0 1 1124.86,429.38 Z" fill="#ed1c24"/><circle cx="1119.06" cy="429.38" r="5.25" fill="none" stroke="#ee3b2b" stroke-width="1.1"/><circle cx="1120.23" cy="428.63" r="5.8" fill="#fff"/><path d="M1114.43,428.63 A5.8,5.8 0 0 1 1126.03,428.63 Z" fill="#ed1c24"/><circle cx="1120.23" cy="428.63" r="5.25" fill="none" stroke="#ee3b2b" stroke-width="1.1"/><circle cx="1121.4" cy="427.89" r="5.8" fill="#fff"/><path d="M1115.6,427.89 A5.8,5.8 0 0 1 1127.2,427.89 Z" fill="#ed1c24"/><circle cx="1121.4" cy="427.89" r="5.25" fill="none" stroke="#ee3b2b" stroke-width="1.1"/><circle cx="1122.72" cy="426.87" r="5.8" fill="#fff"/><path d="M1116.92,426.87 A5.8,5.8 0 0 1 1128.52,426.87 Z" fill="#ed1c24"/><circle cx="1122.72" cy="426.87" r="5.25" fill="none" stroke="#ee3b2b" stroke-width="1.1"/><circle cx="1124.04" cy="425.85" r="5.8" fill="#fff"/><path d="M1118.24,425.85 A5.8,5.8 0 0 1 1129.84,425.85 Z" fill="#ed1c24"/><circle cx="1124.04" cy="425.85" r="5.25" fill="none" stroke="#ee3b2b" stroke-width="1.1"/><circle cx="1125.48" cy="424.49" r="5.8" fill="#fff"/><path d="M1119.68,424.49 A5.8,5.8 0 0 1 1131.28,424.49 Z" fill="#ed1c24"/><circle cx="1125.48" cy="424.49" r="5.25" fill="none" stroke="#ee3b2b" stroke-width="1.1"/><circle cx="1126.93" cy="423.13" r="5.8" fill="#fff"/><path d="M1121.13,423.13 A5.8,5.8 0 0 1 1132.73,423.13 Z" fill="#ed1c24"/><circle cx="1126.93" cy="423.13" r="5.25" fill="none" stroke="#ee3b2b" stroke-width="1.1"/><circle cx="1128.48" cy="421.37" r="5.8" fill="#fff"/><path d="M1122.68,421.37 A5.8,5.8 0 0 1 1134.28,421.37 Z" fill="#ed1c24"/><circle cx="1128.48" cy="421.37" r="5.25" fill="none" stroke="#ee3b2b" stroke-width="1.1"/><circle cx="1130.04" cy="419.61" r="5.8" fill="#fff"/><path d="M1124.24,419.61 A5.8,5.8 0 0 1 1135.84,419.61 Z" fill="#ed1c24"/><circle cx="1130.04" cy="419.61" r="5.25" fill="none" stroke="#ee3b2b" stroke-width="1.1"/><circle cx="1133.33" cy="415.13" r="5.8" fill="#fff"/><path d="M1127.53,415.13 A5.8,5.8 0 0 1 1139.13,415.13 Z" fill="#ed1c24"/><circle cx="1133.33" cy="415.13" r="5.25" fill="none" stroke="#ee3b2b" stroke-width="1.1"/><circle cx="1136.7" cy="409.51" r="5.8" fill="#fff"/><path d="M1130.9,409.51 A5.8,5.8 0 0 1 1142.5,409.51 Z" fill="#ed1c24"/><circle cx="1136.7" cy="409.51" r="5.25" fill="none" stroke="#ee3b2b" stroke-width="1.1"/><circle cx="1140.02" cy="402.56" r="5.8" fill="#fff"/><path d="M1134.22,402.56 A5.8,5.8 0 0 1 1145.82,402.56 Z" fill="#ed1c24"/><circle cx="1140.02" cy="402.56" r="5.25" fill="none" stroke="#ee3b2b" stroke-width="1.1"/><circle cx="1143.63" cy="392.41" r="5.8" fill="#fff"/><path d="M1137.83,392.41 A5.8,5.8 0 0 1 1149.43,392.41 Z" fill="#ed1c24"/><circle cx="1143.63" cy="392.41" r="5.25" fill="none" stroke="#ee3b2b" stroke-width="1.1"/><circle cx="1146.78" cy="380.16" r="5.8" fill="#fff"/><path d="M1140.98,380.16 A5.8,5.8 0 0 1 1152.58,380.16 Z" fill="#ed1c24"/><circle cx="1146.78" cy="380.16" r="5.25" fill="none" stroke="#ee3b2b" stroke-width="1.1"/><circle cx="1150" cy="365.69" r="5.8" fill="#fff"/><path d="M1144.2,365.69 A5.8,5.8 0 0 1 1155.8,365.69 Z" fill="#ed1c24"/><circle cx="1150" cy="365.69" r="5.25" fill="none" stroke="#ee3b2b" stroke-width="1.1"/><path d="M939.22,453.02 L939.73,452.01 L940.29,450.92 L941.07,449.36 L941.89,447.71 L942.42,446.63 L943.07,445.31 L943.84,443.73 L944.78,441.83 L945.91,439.55 L947.27,436.8 L948.94,433.53 L951,429.63 L953.58,425.04 L956.89,419.7 L961.22,413.63 L966.97,406.95 L974.19,399.53 L982.72,390.99 L992.4,381.62 L1003.9,371.49 L1017.73,361.33 L1034.3,352.36 L1054.34,345.25 L1076.23,341.23 L1098.88,340.62 L1121.5,343.47 L1142.6,349.44 L1161.33,357.85 L1174.1,365.69 L1184.73,373.88 L1193.46,381.81 L1200.62,389.09 L1206.5,395.53 L1212.86,402.87 L1218.15,409.06 L1222.84,413.93 L1227.16,417.51 L1231.11,419.99 L1234.67,421.66 L1237.94,422.73 L1240.85,423.32 L1243.39,423.54 L1246.05,423.46 L1248.9,423.01 L1251.95,422.11 L1255.22,420.73 L1258.71,418.89 L1262.49,416.6 L1266.56,413.85 L1270.78,410.69 L1275.27,406.94 L1280,402.51 L1284.97,397.34 L1290.19,391.38" fill="none" stroke="#008080" stroke-width="2.5"/><path d="M933.22,449.35 L945.22,449.35 L939.22,460.35 Z" fill="#fff" stroke="#008080" stroke-width="1.1" stroke-linejoin="miter"/><path d="M933.22,449.35 L945.22,449.35 L943.22,453.02 L935.22,453.02 Z" fill="#008080"/><path d="M933.73,448.35 L945.73,448.35 L939.73,459.35 Z" fill="#fff" stroke="#008080" stroke-width="1.1" stroke-linejoin="miter"/><path d="M933.73,448.35 L945.73,448.35 L943.73,452.01 L935.73,452.01 Z" fill="#008080"/><path d="M934.29,447.26 L946.29,447.26 L940.29,458.26 Z" fill="#fff" stroke="#008080" stroke-width="1.1" stroke-linejoin="miter"/><path d="M934.29,447.26 L946.29,447.26 L944.29,450.92 L936.29,450.92 Z" fill="#008080"/><path d="M935.07,445.7 L947.07,445.7 L941.07,456.7 Z" fill="#fff" stroke="#008080" stroke-width="1.1" stroke-linejoin="miter"/><path d="M935.07,445.7 L947.07,445.7 L945.07,449.36 L937.07,449.36 Z" fill="#008080"/><path d="M935.89,444.05 L947.89,444.05 L941.89,455.05 Z" fill="#fff" stroke="#008080" stroke-width="1.1" stroke-linejoin="miter"/><path d="M935.89,444.05 L947.89,444.05 L945.89,447.71 L937.89,447.71 Z" fill="#008080"/><path d="M936.42,442.96 L948.42,442.96 L942.42,453.96 Z" fill="#fff" stroke="#008080" stroke-width="1.1" stroke-linejoin="miter"/><path d="M936.42,442.96 L948.42,442.96 L946.42,446.63 L938.42,446.63 Z" fill="#008080"/><path d="M937.07,441.65 L949.07,441.65 L943.07,452.65 Z" fill="#fff" stroke="#008080" stroke-width="1.1" stroke-linejoin="miter"/><path d="M937.07,441.65 L949.07,441.65 L947.07,445.31 L939.07,445.31 Z" fill="#008080"/><path d="M937.84,440.07 L949.84,440.07 L943.84,451.07 Z" fill="#fff" stroke="#008080" stroke-width="1.1" stroke-linejoin="miter"/><path d="M937.84,440.07 L949.84,440.07 L947.84,443.73 L939.84,443.73 Z" fill="#008080"/><path d="M938.78,438.17 L950.78,438.17 L944.78,449.17 Z" fill="#fff" stroke="#008080" stroke-width="1.1" stroke-linejoin="miter"/><path d="M938.78,438.17 L950.78,438.17 L948.78,441.83 L940.78,441.83 Z" fill="#008080"/><path d="M939.91,435.88 L951.91,435.88 L945.91,446.88 Z" fill="#fff" stroke="#008080" stroke-width="1.1" stroke-linejoin="miter"/><path d="M939.91,435.88 L951.91,435.88 L949.91,439.55 L941.91,439.55 Z" fill="#008080"/><path d="M941.27,433.14 L953.27,433.14 L947.27,444.14 Z" fill="#fff" stroke="#008080" stroke-width="1.1" stroke-linejoin="miter"/><path d="M941.27,433.14 L953.27,433.14 L951.27,436.8 L943.27,436.8 Z" fill="#008080"/><path d="M942.94,429.86 L954.94,429.86 L948.94,440.86 Z" fill="#fff" stroke="#008080" stroke-width="1.1" stroke-linejoin="miter"/><path d="M942.94,429.86 L954.94,429.86 L952.94,433.53 L944.94,433.53 Z" fill="#008080"/><path d="M945,425.97 L957,425.97 L951,436.97 Z" fill="#fff" stroke="#008080" stroke-width="1.1" stroke-linejoin="miter"/><path d="M945,425.97 L957,425.97 L955,429.63 L947,429.63 Z" fill="#008080"/><path d="M947.58,421.37 L959.58,421.37 L953.58,432.37 Z" fill="#fff" stroke="#008080" stroke-width="1.1" stroke-linejoin="miter"/><path d="M947.58,421.37 L959.58,421.37 L957.58,425.04 L949.58,425.04 Z" fill="#008080"/><path d="M950.89,416.03 L962.89,416.03 L956.89,427.03 Z" fill="#fff" stroke="#008080" stroke-width="1.1" stroke-linejoin="miter"/><path d="M950.89,416.03 L962.89,416.03 L960.89,419.7 L952.89,419.7 Z" fill="#008080"/><path d="M955.22,409.96 L967.22,409.96 L961.22,420.96 Z" fill="#fff" stroke="#008080" stroke-width="1.1" stroke-linejoin="miter"/><path d="M955.22,409.96 L967.22,409.96 L965.22,413.63 L957.22,413.63 Z" fill="#008080"/><path d="M960.97,403.28 L972.97,403.28 L966.97,414.28 Z" fill="#fff" stroke="#008080" stroke-width="1.1" stroke-linejoin="miter"/><path d="M960.97,403.28 L972.97,403.28 L970.97,406.95 L962.97,406.95 Z" fill="#008080"/><path d="M968.19,395.86 L980.19,395.86 L974.19,406.86 Z" fill="#fff" stroke="#008080" stroke-width="1.1" stroke-linejoin="miter"/><path d="M968.19,395.86 L980.19,395.86 L978.19,399.53 L970.19,399.53 Z" fill="#008080"/><path d="M976.72,387.32 L988.72,387.32 L982.72,398.32 Z" fill="#fff" stroke="#008080" stroke-width="1.1" stroke-linejoin="miter"/><path d="M976.72,387.32 L988.72,387.32 L986.72,390.99 L978.72,390.99 Z" fill="#008080"/><path d="M986.4,377.96 L998.4,377.96 L992.4,388.96 Z" fill="#fff" stroke="#008080" stroke-width="1.1" stroke-linejoin="miter"/><path d="M986.4,377.96 L998.4,377.96 L996.4,381.62 L988.4,381.62 Z" fill="#008080"/><path d="M997.9,367.82 L1009.9,367.82 L1003.9,378.82 Z" fill="#fff" stroke="#008080" stroke-width="1.1" stroke-linejoin="miter"/><path d="M997.9,367.82 L1009.9,367.82 L1007.9,371.49 L999.9,371.49 Z" fill="#008080"/><path d="M1011.73,357.66 L1023.73,357.66 L1017.73,368.66 Z" fill="#fff" stroke="#008080" stroke-width="1.1" stroke-linejoin="miter"/><path d="M1011.73,357.66 L1023.73,357.66 L1021.73,361.33 L1013.73,361.33 Z" fill="#008080"/><path d="M1028.3,348.69 L1040.3,348.69 L1034.3,359.69 Z" fill="#fff" stroke="#008080" stroke-width="1.1" stroke-linejoin="miter"/><path d="M1028.3,348.69 L1040.3,348.69 L1038.3,352.36 L1030.3,352.36 Z" fill="#008080"/><path d="M1048.34,341.59 L1060.34,341.59 L1054.34,352.59 Z" fill="#fff" stroke="#008080" stroke-width="1.1" stroke-linejoin="miter"/><path d="M1048.34,341.59 L1060.34,341.59 L1058.34,345.25 L1050.34,345.25 Z" fill="#008080"/><path d="M1070.23,337.56 L1082.23,337.56 L1076.23,348.56 Z" fill="#fff" stroke="#008080" stroke-width="1.1" stroke-linejoin="miter"/><path d="M1070.23,337.56 L1082.23,337.56 L1080.23,341.23 L1072.23,341.23 Z" fill="#008080"/><path d="M1092.88,336.95 L1104.88,336.95 L1098.88,347.95 Z" fill="#fff" stroke="#008080" stroke-width="1.1" stroke-linejoin="miter"/><path d="M1092.88,336.95 L1104.88,336.95 L1102.88,340.62 L1094.88,340.62 Z" fill="#008080"/><path d="M1115.5,339.81 L1127.5,339.81 L1121.5,350.81 Z" fill="#fff" stroke="#008080" stroke-width="1.1" stroke-linejoin="miter"/><path d="M1115.5,339.81 L1127.5,339.81 L1125.5,343.47 L1117.5,343.47 Z" fill="#008080"/><path d="M1136.6,345.77 L1148.6,345.77 L1142.6,356.77 Z" fill="#fff" stroke="#008080" stroke-width="1.1" stroke-linejoin="miter"/><path d="M1136.6,345.77 L1148.6,345.77 L1146.6,349.44 L1138.6,349.44 Z" fill="#008080"/><path d="M1155.33,354.18 L1167.33,354.18 L1161.33,365.18 Z" fill="#fff" stroke="#008080" stroke-width="1.1" stroke-linejoin="miter"/><path d="M1155.33,354.18 L1167.33,354.18 L1165.33,357.85 L1157.33,357.85 Z" fill="#008080"/><path d="M1168.1,362.03 L1180.1,362.03 L1174.1,373.03 Z" fill="#fff" stroke="#008080" stroke-width="1.1" stroke-linejoin="miter"/><path d="M1168.1,362.03 L1180.1,362.03 L1178.1,365.69 L1170.1,365.69 Z" fill="#008080"/><path d="M1178.73,370.21 L1190.73,370.21 L1184.73,381.21 Z" fill="#fff" stroke="#008080" stroke-width="1.1" stroke-linejoin="miter"/><path d="M1178.73,370.21 L1190.73,370.21 L1188.73,373.88 L1180.73,373.88 Z" fill="#008080"/><path d="M1187.46,378.15 L1199.46,378.15 L1193.46,389.15 Z" fill="#fff" stroke="#008080" stroke-width="1.1" stroke-linejoin="miter"/><path d="M1187.46,378.15 L1199.46,378.15 L1197.46,381.81 L1189.46,381.81 Z" fill="#008080"/><path d="M1194.62,385.43 L1206.62,385.43 L1200.62,396.43 Z" fill="#fff" stroke="#008080" stroke-width="1.1" stroke-linejoin="miter"/><path d="M1194.62,385.43 L1206.62,385.43 L1204.62,389.09 L1196.62,389.09 Z" fill="#008080"/><path d="M1200.5,391.87 L1212.5,391.87 L1206.5,402.87 Z" fill="#fff" stroke="#008080" stroke-width="1.1" stroke-linejoin="miter"/><path d="M1200.5,391.87 L1212.5,391.87 L1210.5,395.53 L1202.5,395.53 Z" fill="#008080"/><path d="M1206.86,399.21 L1218.86,399.21 L1212.86,410.21 Z" fill="#fff" stroke="#008080" stroke-width="1.1" stroke-linejoin="miter"/><path d="M1206.86,399.21 L1218.86,399.21 L1216.86,402.87 L1208.86,402.87 Z" fill="#008080"/><path d="M1212.15,405.39 L1224.15,405.39 L1218.15,416.39 Z" fill="#fff" stroke="#008080" stroke-width="1.1" stroke-linejoin="miter"/><path d="M1212.15,405.39 L1224.15,405.39 L1222.15,409.06 L1214.15,409.06 Z" fill="#008080"/><path d="M1216.84,410.26 L1228.84,410.26 L1222.84,421.26 Z" fill="#fff" stroke="#008080" stroke-width="1.1" stroke-linejoin="miter"/><path d="M1216.84,410.26 L1228.84,410.26 L1226.84,413.93 L1218.84,413.93 Z" fill="#008080"/><path d="M1221.16,413.84 L1233.16,413.84 L1227.16,424.84 Z" fill="#fff" stroke="#008080" stroke-width="1.1" stroke-linejoin="miter"/><path d="M1221.16,413.84 L1233.16,413.84 L1231.16,417.51 L1223.16,417.51 Z" fill="#008080"/><path d="M1225.11,416.33 L1237.11,416.33 L1231.11,427.33 Z" fill="#fff" stroke="#008080" stroke-width="1.1" stroke-linejoin="miter"/><path d="M1225.11,416.33 L1237.11,416.33 L1235.11,419.99 L1227.11,419.99 Z" fill="#008080"/><path d="M1228.67,418 L1240.67,418 L1234.67,429 Z" fill="#fff" stroke="#008080" stroke-width="1.1" stroke-linejoin="miter"/><path d="M1228.67,418 L1240.67,418 L1238.67,421.66 L1230.67,421.66 Z" fill="#008080"/><path d="M1231.94,419.07 L1243.94,419.07 L1237.94,430.07 Z" fill="#fff" stroke="#008080" stroke-width="1.1" stroke-linejoin="miter"/><path d="M1231.94,419.07 L1243.94,419.07 L1241.94,422.73 L1233.94,422.73 Z" fill="#008080"/><path d="M1234.85,419.65 L1246.85,419.65 L1240.85,430.65 Z" fill="#fff" stroke="#008080" stroke-width="1.1" stroke-linejoin="miter"/><path d="M1234.85,419.65 L1246.85,419.65 L1244.85,423.32 L1236.85,423.32 Z" fill="#008080"/><path d="M1237.39,419.87 L1249.39,419.87 L1243.39,430.87 Z" fill="#fff" stroke="#008080" stroke-width="1.1" stroke-linejoin="miter"/><path d="M1237.39,419.87 L1249.39,419.87 L1247.39,423.54 L1239.39,423.54 Z" fill="#008080"/><path d="M1240.05,419.79 L1252.05,419.79 L1246.05,430.79 Z" fill="#fff" stroke="#008080" stroke-width="1.1" stroke-linejoin="miter"/><path d="M1240.05,419.79 L1252.05,419.79 L1250.05,423.46 L1242.05,423.46 Z" fill="#008080"/><path d="M1242.9,419.34 L1254.9,419.34 L1248.9,430.34 Z" fill="#fff" stroke="#008080" stroke-width="1.1" stroke-linejoin="miter"/><path d="M1242.9,419.34 L1254.9,419.34 L1252.9,423.01 L1244.9,423.01 Z" fill="#008080"/><path d="M1245.95,418.44 L1257.95,418.44 L1251.95,429.44 Z" fill="#fff" stroke="#008080" stroke-width="1.1" stroke-linejoin="miter"/><path d="M1245.95,418.44 L1257.95,418.44 L1255.95,422.11 L1247.95,422.11 Z" fill="#008080"/><path d="M1249.22,417.06 L1261.22,417.06 L1255.22,428.06 Z" fill="#fff" stroke="#008080" stroke-width="1.1" stroke-linejoin="miter"/><path d="M1249.22,417.06 L1261.22,417.06 L1259.22,420.73 L1251.22,420.73 Z" fill="#008080"/><path d="M1252.71,415.22 L1264.71,415.22 L1258.71,426.22 Z" fill="#fff" stroke="#008080" stroke-width="1.1" stroke-linejoin="miter"/><path d="M1252.71,415.22 L1264.71,415.22 L1262.71,418.89 L1254.71,418.89 Z" fill="#008080"/><path d="M1256.49,412.93 L1268.49,412.93 L1262.49,423.93 Z" fill="#fff" stroke="#008080" stroke-width="1.1" stroke-linejoin="miter"/><path d="M1256.49,412.93 L1268.49,412.93 L1266.49,416.6 L1258.49,416.6 Z" fill="#008080"/><path d="M1260.56,410.18 L1272.56,410.18 L1266.56,421.18 Z" fill="#fff" stroke="#008080" stroke-width="1.1" stroke-linejoin="miter"/><path d="M1260.56,410.18 L1272.56,410.18 L1270.56,413.85 L1262.56,413.85 Z" fill="#008080"/><path d="M1264.78,407.02 L1276.78,407.02 L1270.78,418.02 Z" fill="#fff" stroke="#008080" stroke-width="1.1" stroke-linejoin="miter"/><path d="M1264.78,407.02 L1276.78,407.02 L1274.78,410.69 L1266.78,410.69 Z" fill="#008080"/><path d="M1269.27,403.27 L1281.27,403.27 L1275.27,414.27 Z" fill="#fff" stroke="#008080" stroke-width="1.1" stroke-linejoin="miter"/><path d="M1269.27,403.27 L1281.27,403.27 L1279.27,406.94 L1271.27,406.94 Z" fill="#008080"/><path d="M1274,398.85 L1286,398.85 L1280,409.85 Z" fill="#fff" stroke="#008080" stroke-width="1.1" stroke-linejoin="miter"/><path d="M1274,398.85 L1286,398.85 L1284,402.51 L1276,402.51 Z" fill="#008080"/><path d="M1278.97,393.68 L1290.97,393.68 L1284.97,404.68 Z" fill="#fff" stroke="#008080" stroke-width="1.1" stroke-linejoin="miter"/><path d="M1278.97,393.68 L1290.97,393.68 L1288.97,397.34 L1280.97,397.34 Z" fill="#008080"/><path d="M1284.19,387.71 L1296.19,387.71 L1290.19,398.71 Z" fill="#fff" stroke="#008080" stroke-width="1.1" stroke-linejoin="miter"/><path d="M1284.19,387.71 L1296.19,387.71 L1294.19,391.38 L1286.19,391.38 Z" fill="#008080"/></g>
<rect x="879" y="23.7" width="439" height="442" fill="none" stroke="#000" stroke-width="2.7"/>
<line x1="890.5" y1="465.7" x2="890.5" y2="458.5" stroke="#000" stroke-width="2.7" stroke-linecap="round"/>
<line x1="1002.8" y1="465.7" x2="1002.8" y2="458.5" stroke="#000" stroke-width="2.7" stroke-linecap="round"/>
<line x1="1115.1" y1="465.7" x2="1115.1" y2="458.5" stroke="#000" stroke-width="2.7" stroke-linecap="round"/>
<line x1="1227.4" y1="465.7" x2="1227.4" y2="458.5" stroke="#000" stroke-width="2.7" stroke-linecap="round"/>
<line x1="946.65" y1="465.7" x2="946.65" y2="462.1" stroke="#000" stroke-width="2.7" stroke-linecap="round"/>
<line x1="1058.95" y1="465.7" x2="1058.95" y2="462.1" stroke="#000" stroke-width="2.7" stroke-linecap="round"/>
<line x1="1171.25" y1="465.7" x2="1171.25" y2="462.1" stroke="#000" stroke-width="2.7" stroke-linecap="round"/>
<line x1="1283.55" y1="465.7" x2="1283.55" y2="462.1" stroke="#000" stroke-width="2.7" stroke-linecap="round"/>
<line x1="879" y1="453.4" x2="886" y2="453.4" stroke="#000" stroke-width="2.7" stroke-linecap="round"/>
<line x1="879" y1="340.2" x2="886" y2="340.2" stroke="#000" stroke-width="2.7" stroke-linecap="round"/>
<line x1="879" y1="227" x2="886" y2="227" stroke="#000" stroke-width="2.7" stroke-linecap="round"/>
<line x1="879" y1="113.8" x2="886" y2="113.8" stroke="#000" stroke-width="2.7" stroke-linecap="round"/>
<line x1="879" y1="396.8" x2="882.6" y2="396.8" stroke="#000" stroke-width="2.7" stroke-linecap="round"/>
<line x1="879" y1="283.6" x2="882.6" y2="283.6" stroke="#000" stroke-width="2.7" stroke-linecap="round"/>
<line x1="879" y1="170.4" x2="882.6" y2="170.4" stroke="#000" stroke-width="2.7" stroke-linecap="round"/>
<line x1="879" y1="57.2" x2="882.6" y2="57.2" stroke="#000" stroke-width="2.7" stroke-linecap="round"/>
<text x="890.5" y="503" font-size="33.8" text-anchor="middle" fill="#000" >0</text>
<text x="1002.8" y="503" font-size="33.8" text-anchor="middle" fill="#000" >100</text>
<text x="1115.1" y="503" font-size="33.8" text-anchor="middle" fill="#000" >200</text>
<text x="1227.4" y="503" font-size="33.8" text-anchor="middle" fill="#000" >300</text>
<text x="866" y="464" font-size="33.8" text-anchor="end" fill="#000" >0</text>
<text x="866" y="350.8" font-size="33.8" text-anchor="end" fill="#000" >100</text>
<text x="866" y="237.6" font-size="33.8" text-anchor="end" fill="#000" >200</text>
<text x="866" y="124.4" font-size="33.8" text-anchor="end" fill="#000" >300</text>
<text x="1098" y="551.4" font-size="33.5" text-anchor="middle">Z′ (Ohm)</text>
<text transform="translate(787.8,245) rotate(-90)" font-size="33.5" text-anchor="middle">−Z″ (Ohm)</text>
<line x1="912" y1="77.2" x2="954" y2="77.2" stroke="#008080" stroke-width="3" stroke-linecap="round"/>
<path d="M926.5,73 L939.5,73 L933,85 Z" fill="#fff" stroke="#008080" stroke-width="1.1" stroke-linejoin="miter"/><path d="M926.5,73 L939.5,73 L937.33,77 L928.67,77 Z" fill="#008080"/>
<line x1="912" y1="117.6" x2="954" y2="117.6" stroke="#ed1c24" stroke-width="3" stroke-linecap="round"/>
<circle cx="933" cy="117.6" r="6" fill="#fff"/><path d="M927,117.6 A6,6 0 0 0 939,117.6 Z" fill="#ed1c24"/><circle cx="933" cy="117.6" r="5.45" fill="none" stroke="#ee3b2b" stroke-width="1.1"/>
<text x="969" y="88" font-size="28.5" text-anchor="start" fill="#008080" >TNO</text>
<text x="969" y="126" font-size="28.5" text-anchor="start" fill="#ed1c24" >TNO<tspan dy="8.5" font-size="19.7">-x</tspan><tspan dy="-8.5" dx="2.9" font-size="23.4">@</tspan><tspan dx="2.9">C</tspan><tspan dy="8.5" font-size="19.7">3</tspan></text>
<g clip-path="url(#cc)"><path d="M140.47,721 L152.24,721 L164.01,721 L175.78,718.5 L187.55,718.5 L199.32,722.5 L211.09,719 L222.86,718 L234.63,719 L246.4,721 L258.17,742.7 L269.94,742.7 L281.71,746 L293.48,744.5 L305.25,744.5 L317.02,744.5 L328.79,744.5 L340.56,744.5 L352.33,744.5 L364.1,744.5 L375.87,785 L387.64,784 L399.41,788 L411.18,788.5 L422.95,789.5 L434.72,791 L446.49,789.5 L458.26,791 L470.03,790.5 L481.8,791.5 L493.57,822.5 L505.34,825 L517.11,825 L528.88,825 L540.65,826 L552.42,826 L564.19,826 L575.96,826 L587.73,828 L599.5,825.5 L611.27,864.5 L623.04,866.5 L634.81,865.5 L646.58,865.5 L658.35,865.5 L670.12,866.5 L681.89,864.5 L693.66,865.5 L705.43,865.5 L717.2,864.5" fill="none" stroke="#ed1c24" stroke-width="3"/><circle cx="140.47" cy="720.5" r="6.8" fill="#fff"/><path d="M133.67,720.5 A6.8,6.8 0 0 0 147.27,720.5 Z" fill="#ed1c24"/><circle cx="140.47" cy="720.5" r="6.25" fill="none" stroke="#ee3b2b" stroke-width="1.1"/><circle cx="152.24" cy="720.5" r="6.8" fill="#fff"/><path d="M145.44,720.5 A6.8,6.8 0 0 0 159.04,720.5 Z" fill="#ed1c24"/><circle cx="152.24" cy="720.5" r="6.25" fill="none" stroke="#ee3b2b" stroke-width="1.1"/><circle cx="164.01" cy="720.5" r="6.8" fill="#fff"/><path d="M157.21,720.5 A6.8,6.8 0 0 0 170.81,720.5 Z" fill="#ed1c24"/><circle cx="164.01" cy="720.5" r="6.25" fill="none" stroke="#ee3b2b" stroke-width="1.1"/><circle cx="175.78" cy="718" r="6.8" fill="#fff"/><path d="M168.98,718 A6.8,6.8 0 0 0 182.58,718 Z" fill="#ed1c24"/><circle cx="175.78" cy="718" r="6.25" fill="none" stroke="#ee3b2b" stroke-width="1.1"/><circle cx="187.55" cy="718" r="6.8" fill="#fff"/><path d="M180.75,718 A6.8,6.8 0 0 0 194.35,718 Z" fill="#ed1c24"/><circle cx="187.55" cy="718" r="6.25" fill="none" stroke="#ee3b2b" stroke-width="1.1"/><circle cx="199.32" cy="722" r="6.8" fill="#fff"/><path d="M192.52,722 A6.8,6.8 0 0 0 206.12,722 Z" fill="#ed1c24"/><circle cx="199.32" cy="722" r="6.25" fill="none" stroke="#ee3b2b" stroke-width="1.1"/><circle cx="211.09" cy="718.5" r="6.8" fill="#fff"/><path d="M204.29,718.5 A6.8,6.8 0 0 0 217.89,718.5 Z" fill="#ed1c24"/><circle cx="211.09" cy="718.5" r="6.25" fill="none" stroke="#ee3b2b" stroke-width="1.1"/><circle cx="222.86" cy="717.5" r="6.8" fill="#fff"/><path d="M216.06,717.5 A6.8,6.8 0 0 0 229.66,717.5 Z" fill="#ed1c24"/><circle cx="222.86" cy="717.5" r="6.25" fill="none" stroke="#ee3b2b" stroke-width="1.1"/><circle cx="234.63" cy="718.5" r="6.8" fill="#fff"/><path d="M227.83,718.5 A6.8,6.8 0 0 0 241.43,718.5 Z" fill="#ed1c24"/><circle cx="234.63" cy="718.5" r="6.25" fill="none" stroke="#ee3b2b" stroke-width="1.1"/><circle cx="246.4" cy="720.5" r="6.8" fill="#fff"/><path d="M239.6,720.5 A6.8,6.8 0 0 0 253.2,720.5 Z" fill="#ed1c24"/><circle cx="246.4" cy="720.5" r="6.25" fill="none" stroke="#ee3b2b" stroke-width="1.1"/><circle cx="258.17" cy="742.2" r="6.8" fill="#fff"/><path d="M251.37,742.2 A6.8,6.8 0 0 0 264.97,742.2 Z" fill="#ed1c24"/><circle cx="258.17" cy="742.2" r="6.25" fill="none" stroke="#ee3b2b" stroke-width="1.1"/><circle cx="269.94" cy="742.2" r="6.8" fill="#fff"/><path d="M263.14,742.2 A6.8,6.8 0 0 0 276.74,742.2 Z" fill="#ed1c24"/><circle cx="269.94" cy="742.2" r="6.25" fill="none" stroke="#ee3b2b" stroke-width="1.1"/><circle cx="281.71" cy="745.5" r="6.8" fill="#fff"/><path d="M274.91,745.5 A6.8,6.8 0 0 0 288.51,745.5 Z" fill="#ed1c24"/><circle cx="281.71" cy="745.5" r="6.25" fill="none" stroke="#ee3b2b" stroke-width="1.1"/><circle cx="293.48" cy="744" r="6.8" fill="#fff"/><path d="M286.68,744 A6.8,6.8 0 0 0 300.28,744 Z" fill="#ed1c24"/><circle cx="293.48" cy="744" r="6.25" fill="none" stroke="#ee3b2b" stroke-width="1.1"/><circle cx="305.25" cy="744" r="6.8" fill="#fff"/><path d="M298.45,744 A6.8,6.8 0 0 0 312.05,744 Z" fill="#ed1c24"/><circle cx="305.25" cy="744" r="6.25" fill="none" stroke="#ee3b2b" stroke-width="1.1"/><circle cx="317.02" cy="744" r="6.8" fill="#fff"/><path d="M310.22,744 A6.8,6.8 0 0 0 323.82,744 Z" fill="#ed1c24"/><circle cx="317.02" cy="744" r="6.25" fill="none" stroke="#ee3b2b" stroke-width="1.1"/><circle cx="328.79" cy="744" r="6.8" fill="#fff"/><path d="M321.99,744 A6.8,6.8 0 0 0 335.59,744 Z" fill="#ed1c24"/><circle cx="328.79" cy="744" r="6.25" fill="none" stroke="#ee3b2b" stroke-width="1.1"/><circle cx="340.56" cy="744" r="6.8" fill="#fff"/><path d="M333.76,744 A6.8,6.8 0 0 0 347.36,744 Z" fill="#ed1c24"/><circle cx="340.56" cy="744" r="6.25" fill="none" stroke="#ee3b2b" stroke-width="1.1"/><circle cx="352.33" cy="744" r="6.8" fill="#fff"/><path d="M345.53,744 A6.8,6.8 0 0 0 359.13,744 Z" fill="#ed1c24"/><circle cx="352.33" cy="744" r="6.25" fill="none" stroke="#ee3b2b" stroke-width="1.1"/><circle cx="364.1" cy="744" r="6.8" fill="#fff"/><path d="M357.3,744 A6.8,6.8 0 0 0 370.9,744 Z" fill="#ed1c24"/><circle cx="364.1" cy="744" r="6.25" fill="none" stroke="#ee3b2b" stroke-width="1.1"/><circle cx="375.87" cy="784.5" r="6.8" fill="#fff"/><path d="M369.07,784.5 A6.8,6.8 0 0 0 382.67,784.5 Z" fill="#ed1c24"/><circle cx="375.87" cy="784.5" r="6.25" fill="none" stroke="#ee3b2b" stroke-width="1.1"/><circle cx="387.64" cy="783.5" r="6.8" fill="#fff"/><path d="M380.84,783.5 A6.8,6.8 0 0 0 394.44,783.5 Z" fill="#ed1c24"/><circle cx="387.64" cy="783.5" r="6.25" fill="none" stroke="#ee3b2b" stroke-width="1.1"/><circle cx="399.41" cy="787.5" r="6.8" fill="#fff"/><path d="M392.61,787.5 A6.8,6.8 0 0 0 406.21,787.5 Z" fill="#ed1c24"/><circle cx="399.41" cy="787.5" r="6.25" fill="none" stroke="#ee3b2b" stroke-width="1.1"/><circle cx="411.18" cy="788" r="6.8" fill="#fff"/><path d="M404.38,788 A6.8,6.8 0 0 0 417.98,788 Z" fill="#ed1c24"/><circle cx="411.18" cy="788" r="6.25" fill="none" stroke="#ee3b2b" stroke-width="1.1"/><circle cx="422.95" cy="789" r="6.8" fill="#fff"/><path d="M416.15,789 A6.8,6.8 0 0 0 429.75,789 Z" fill="#ed1c24"/><circle cx="422.95" cy="789" r="6.25" fill="none" stroke="#ee3b2b" stroke-width="1.1"/><circle cx="434.72" cy="790.5" r="6.8" fill="#fff"/><path d="M427.92,790.5 A6.8,6.8 0 0 0 441.52,790.5 Z" fill="#ed1c24"/><circle cx="434.72" cy="790.5" r="6.25" fill="none" stroke="#ee3b2b" stroke-width="1.1"/><circle cx="446.49" cy="789" r="6.8" fill="#fff"/><path d="M439.69,789 A6.8,6.8 0 0 0 453.29,789 Z" fill="#ed1c24"/><circle cx="446.49" cy="789" r="6.25" fill="none" stroke="#ee3b2b" stroke-width="1.1"/><circle cx="458.26" cy="790.5" r="6.8" fill="#fff"/><path d="M451.46,790.5 A6.8,6.8 0 0 0 465.06,790.5 Z" fill="#ed1c24"/><circle cx="458.26" cy="790.5" r="6.25" fill="none" stroke="#ee3b2b" stroke-width="1.1"/><circle cx="470.03" cy="790" r="6.8" fill="#fff"/><path d="M463.23,790 A6.8,6.8 0 0 0 476.83,790 Z" fill="#ed1c24"/><circle cx="470.03" cy="790" r="6.25" fill="none" stroke="#ee3b2b" stroke-width="1.1"/><circle cx="481.8" cy="791" r="6.8" fill="#fff"/><path d="M475,791 A6.8,6.8 0 0 0 488.6,791 Z" fill="#ed1c24"/><circle cx="481.8" cy="791" r="6.25" fill="none" stroke="#ee3b2b" stroke-width="1.1"/><circle cx="493.57" cy="822" r="6.8" fill="#fff"/><path d="M486.77,822 A6.8,6.8 0 0 0 500.37,822 Z" fill="#ed1c24"/><circle cx="493.57" cy="822" r="6.25" fill="none" stroke="#ee3b2b" stroke-width="1.1"/><circle cx="505.34" cy="824.5" r="6.8" fill="#fff"/><path d="M498.54,824.5 A6.8,6.8 0 0 0 512.14,824.5 Z" fill="#ed1c24"/><circle cx="505.34" cy="824.5" r="6.25" fill="none" stroke="#ee3b2b" stroke-width="1.1"/><circle cx="517.11" cy="824.5" r="6.8" fill="#fff"/><path d="M510.31,824.5 A6.8,6.8 0 0 0 523.91,824.5 Z" fill="#ed1c24"/><circle cx="517.11" cy="824.5" r="6.25" fill="none" stroke="#ee3b2b" stroke-width="1.1"/><circle cx="528.88" cy="824.5" r="6.8" fill="#fff"/><path d="M522.08,824.5 A6.8,6.8 0 0 0 535.68,824.5 Z" fill="#ed1c24"/><circle cx="528.88" cy="824.5" r="6.25" fill="none" stroke="#ee3b2b" stroke-width="1.1"/><circle cx="540.65" cy="825.5" r="6.8" fill="#fff"/><path d="M533.85,825.5 A6.8,6.8 0 0 0 547.45,825.5 Z" fill="#ed1c24"/><circle cx="540.65" cy="825.5" r="6.25" fill="none" stroke="#ee3b2b" stroke-width="1.1"/><circle cx="552.42" cy="825.5" r="6.8" fill="#fff"/><path d="M545.62,825.5 A6.8,6.8 0 0 0 559.22,825.5 Z" fill="#ed1c24"/><circle cx="552.42" cy="825.5" r="6.25" fill="none" stroke="#ee3b2b" stroke-width="1.1"/><circle cx="564.19" cy="825.5" r="6.8" fill="#fff"/><path d="M557.39,825.5 A6.8,6.8 0 0 0 570.99,825.5 Z" fill="#ed1c24"/><circle cx="564.19" cy="825.5" r="6.25" fill="none" stroke="#ee3b2b" stroke-width="1.1"/><circle cx="575.96" cy="825.5" r="6.8" fill="#fff"/><path d="M569.16,825.5 A6.8,6.8 0 0 0 582.76,825.5 Z" fill="#ed1c24"/><circle cx="575.96" cy="825.5" r="6.25" fill="none" stroke="#ee3b2b" stroke-width="1.1"/><circle cx="587.73" cy="827.5" r="6.8" fill="#fff"/><path d="M580.93,827.5 A6.8,6.8 0 0 0 594.53,827.5 Z" fill="#ed1c24"/><circle cx="587.73" cy="827.5" r="6.25" fill="none" stroke="#ee3b2b" stroke-width="1.1"/><circle cx="599.5" cy="825" r="6.8" fill="#fff"/><path d="M592.7,825 A6.8,6.8 0 0 0 606.3,825 Z" fill="#ed1c24"/><circle cx="599.5" cy="825" r="6.25" fill="none" stroke="#ee3b2b" stroke-width="1.1"/><circle cx="611.27" cy="864" r="6.8" fill="#fff"/><path d="M604.47,864 A6.8,6.8 0 0 0 618.07,864 Z" fill="#ed1c24"/><circle cx="611.27" cy="864" r="6.25" fill="none" stroke="#ee3b2b" stroke-width="1.1"/><circle cx="623.04" cy="866" r="6.8" fill="#fff"/><path d="M616.24,866 A6.8,6.8 0 0 0 629.84,866 Z" fill="#ed1c24"/><circle cx="623.04" cy="866" r="6.25" fill="none" stroke="#ee3b2b" stroke-width="1.1"/><circle cx="634.81" cy="865" r="6.8" fill="#fff"/><path d="M628.01,865 A6.8,6.8 0 0 0 641.61,865 Z" fill="#ed1c24"/><circle cx="634.81" cy="865" r="6.25" fill="none" stroke="#ee3b2b" stroke-width="1.1"/><circle cx="646.58" cy="865" r="6.8" fill="#fff"/><path d="M639.78,865 A6.8,6.8 0 0 0 653.38,865 Z" fill="#ed1c24"/><circle cx="646.58" cy="865" r="6.25" fill="none" stroke="#ee3b2b" stroke-width="1.1"/><circle cx="658.35" cy="865" r="6.8" fill="#fff"/><path d="M651.55,865 A6.8,6.8 0 0 0 665.15,865 Z" fill="#ed1c24"/><circle cx="658.35" cy="865" r="6.25" fill="none" stroke="#ee3b2b" stroke-width="1.1"/><circle cx="670.12" cy="866" r="6.8" fill="#fff"/><path d="M663.32,866 A6.8,6.8 0 0 0 676.92,866 Z" fill="#ed1c24"/><circle cx="670.12" cy="866" r="6.25" fill="none" stroke="#ee3b2b" stroke-width="1.1"/><circle cx="681.89" cy="864" r="6.8" fill="#fff"/><path d="M675.09,864 A6.8,6.8 0 0 0 688.69,864 Z" fill="#ed1c24"/><circle cx="681.89" cy="864" r="6.25" fill="none" stroke="#ee3b2b" stroke-width="1.1"/><circle cx="693.66" cy="865" r="6.8" fill="#fff"/><path d="M686.86,865 A6.8,6.8 0 0 0 700.46,865 Z" fill="#ed1c24"/><circle cx="693.66" cy="865" r="6.25" fill="none" stroke="#ee3b2b" stroke-width="1.1"/><circle cx="705.43" cy="865" r="6.8" fill="#fff"/><path d="M698.63,865 A6.8,6.8 0 0 0 712.23,865 Z" fill="#ed1c24"/><circle cx="705.43" cy="865" r="6.25" fill="none" stroke="#ee3b2b" stroke-width="1.1"/><circle cx="717.2" cy="864" r="6.8" fill="#fff"/><path d="M710.4,864 A6.8,6.8 0 0 0 724,864 Z" fill="#ed1c24"/><circle cx="717.2" cy="864" r="6.25" fill="none" stroke="#ee3b2b" stroke-width="1.1"/><path d="M140.47,815.43 L152.24,815.43 L164.01,815.03 L175.78,814.53 L187.55,814.53 L199.32,814.03 L211.09,814.03 L222.86,812.73 L234.63,813.53 L246.4,814.33 L258.17,834.73 L269.94,834.73 L281.71,835.53 L293.48,837.03 L305.25,834.53 L317.02,834.53 L328.79,835.03 L340.56,834.53 L352.33,834.03 L364.1,834.73 L375.87,869.53 L387.64,870.03 L399.41,870.53 L411.18,871.03 L422.95,871.33 L434.72,871.33 L446.49,871.03 L458.26,871.33 L470.03,871.53 L481.8,871.33 L493.57,914.53 L505.34,914.53 L517.11,914.53 L528.88,915.03 L540.65,915.53 L552.42,915.53 L564.19,916.53 L575.96,917.03 L587.73,917.53 L599.5,918.13 L611.27,955.13 L623.04,955.53 L634.81,955.03 L646.58,955.53 L658.35,956.53 L670.12,957.53 L681.89,958.53 L693.66,959.53 L705.43,960.53 L717.2,961.23" fill="none" stroke="#008080" stroke-width="3"/><path d="M132.22,810.9 L148.72,810.9 L140.47,824.5 Z" fill="#fff" stroke="#008080" stroke-width="1.1" stroke-linejoin="miter"/><path d="M132.22,810.9 L148.72,810.9 L145.97,815.43 L134.97,815.43 Z" fill="#008080"/><path d="M143.99,810.9 L160.49,810.9 L152.24,824.5 Z" fill="#fff" stroke="#008080" stroke-width="1.1" stroke-linejoin="miter"/><path d="M143.99,810.9 L160.49,810.9 L157.74,815.43 L146.74,815.43 Z" fill="#008080"/><path d="M155.76,810.5 L172.26,810.5 L164.01,824.1 Z" fill="#fff" stroke="#008080" stroke-width="1.1" stroke-linejoin="miter"/><path d="M155.76,810.5 L172.26,810.5 L169.51,815.03 L158.51,815.03 Z" fill="#008080"/><path d="M167.53,810 L184.03,810 L175.78,823.6 Z" fill="#fff" stroke="#008080" stroke-width="1.1" stroke-linejoin="miter"/><path d="M167.53,810 L184.03,810 L181.28,814.53 L170.28,814.53 Z" fill="#008080"/><path d="M179.3,810 L195.8,810 L187.55,823.6 Z" fill="#fff" stroke="#008080" stroke-width="1.1" stroke-linejoin="miter"/><path d="M179.3,810 L195.8,810 L193.05,814.53 L182.05,814.53 Z" fill="#008080"/><path d="M191.07,809.5 L207.57,809.5 L199.32,823.1 Z" fill="#fff" stroke="#008080" stroke-width="1.1" stroke-linejoin="miter"/><path d="M191.07,809.5 L207.57,809.5 L204.82,814.03 L193.82,814.03 Z" fill="#008080"/><path d="M202.84,809.5 L219.34,809.5 L211.09,823.1 Z" fill="#fff" stroke="#008080" stroke-width="1.1" stroke-linejoin="miter"/><path d="M202.84,809.5 L219.34,809.5 L216.59,814.03 L205.59,814.03 Z" fill="#008080"/><path d="M214.61,808.2 L231.11,808.2 L222.86,821.8 Z" fill="#fff" stroke="#008080" stroke-width="1.1" stroke-linejoin="miter"/><path d="M214.61,808.2 L231.11,808.2 L228.36,812.73 L217.36,812.73 Z" fill="#008080"/><path d="M226.38,809 L242.88,809 L234.63,822.6 Z" fill="#fff" stroke="#008080" stroke-width="1.1" stroke-linejoin="miter"/><path d="M226.38,809 L242.88,809 L240.13,813.53 L229.13,813.53 Z" fill="#008080"/><path d="M238.15,809.8 L254.65,809.8 L246.4,823.4 Z" fill="#fff" stroke="#008080" stroke-width="1.1" stroke-linejoin="miter"/><path d="M238.15,809.8 L254.65,809.8 L251.9,814.33 L240.9,814.33 Z" fill="#008080"/><path d="M249.92,830.2 L266.42,830.2 L258.17,843.8 Z" fill="#fff" stroke="#008080" stroke-width="1.1" stroke-linejoin="miter"/><path d="M249.92,830.2 L266.42,830.2 L263.67,834.73 L252.67,834.73 Z" fill="#008080"/><path d="M261.69,830.2 L278.19,830.2 L269.94,843.8 Z" fill="#fff" stroke="#008080" stroke-width="1.1" stroke-linejoin="miter"/><path d="M261.69,830.2 L278.19,830.2 L275.44,834.73 L264.44,834.73 Z" fill="#008080"/><path d="M273.46,831 L289.96,831 L281.71,844.6 Z" fill="#fff" stroke="#008080" stroke-width="1.1" stroke-linejoin="miter"/><path d="M273.46,831 L289.96,831 L287.21,835.53 L276.21,835.53 Z" fill="#008080"/><path d="M285.23,832.5 L301.73,832.5 L293.48,846.1 Z" fill="#fff" stroke="#008080" stroke-width="1.1" stroke-linejoin="miter"/><path d="M285.23,832.5 L301.73,832.5 L298.98,837.03 L287.98,837.03 Z" fill="#008080"/><path d="M297,830 L313.5,830 L305.25,843.6 Z" fill="#fff" stroke="#008080" stroke-width="1.1" stroke-linejoin="miter"/><path d="M297,830 L313.5,830 L310.75,834.53 L299.75,834.53 Z" fill="#008080"/><path d="M308.77,830 L325.27,830 L317.02,843.6 Z" fill="#fff" stroke="#008080" stroke-width="1.1" stroke-linejoin="miter"/><path d="M308.77,830 L325.27,830 L322.52,834.53 L311.52,834.53 Z" fill="#008080"/><path d="M320.54,830.5 L337.04,830.5 L328.79,844.1 Z" fill="#fff" stroke="#008080" stroke-width="1.1" stroke-linejoin="miter"/><path d="M320.54,830.5 L337.04,830.5 L334.29,835.03 L323.29,835.03 Z" fill="#008080"/><path d="M332.31,830 L348.81,830 L340.56,843.6 Z" fill="#fff" stroke="#008080" stroke-width="1.1" stroke-linejoin="miter"/><path d="M332.31,830 L348.81,830 L346.06,834.53 L335.06,834.53 Z" fill="#008080"/><path d="M344.08,829.5 L360.58,829.5 L352.33,843.1 Z" fill="#fff" stroke="#008080" stroke-width="1.1" stroke-linejoin="miter"/><path d="M344.08,829.5 L360.58,829.5 L357.83,834.03 L346.83,834.03 Z" fill="#008080"/><path d="M355.85,830.2 L372.35,830.2 L364.1,843.8 Z" fill="#fff" stroke="#008080" stroke-width="1.1" stroke-linejoin="miter"/><path d="M355.85,830.2 L372.35,830.2 L369.6,834.73 L358.6,834.73 Z" fill="#008080"/><path d="M367.62,865 L384.12,865 L375.87,878.6 Z" fill="#fff" stroke="#008080" stroke-width="1.1" stroke-linejoin="miter"/><path d="M367.62,865 L384.12,865 L381.37,869.53 L370.37,869.53 Z" fill="#008080"/><path d="M379.39,865.5 L395.89,865.5 L387.64,879.1 Z" fill="#fff" stroke="#008080" stroke-width="1.1" stroke-linejoin="miter"/><path d="M379.39,865.5 L395.89,865.5 L393.14,870.03 L382.14,870.03 Z" fill="#008080"/><path d="M391.16,866 L407.66,866 L399.41,879.6 Z" fill="#fff" stroke="#008080" stroke-width="1.1" stroke-linejoin="miter"/><path d="M391.16,866 L407.66,866 L404.91,870.53 L393.91,870.53 Z" fill="#008080"/><path d="M402.93,866.5 L419.43,866.5 L411.18,880.1 Z" fill="#fff" stroke="#008080" stroke-width="1.1" stroke-linejoin="miter"/><path d="M402.93,866.5 L419.43,866.5 L416.68,871.03 L405.68,871.03 Z" fill="#008080"/><path d="M414.7,866.8 L431.2,866.8 L422.95,880.4 Z" fill="#fff" stroke="#008080" stroke-width="1.1" stroke-linejoin="miter"/><path d="M414.7,866.8 L431.2,866.8 L428.45,871.33 L417.45,871.33 Z" fill="#008080"/><path d="M426.47,866.8 L442.97,866.8 L434.72,880.4 Z" fill="#fff" stroke="#008080" stroke-width="1.1" stroke-linejoin="miter"/><path d="M426.47,866.8 L442.97,866.8 L440.22,871.33 L429.22,871.33 Z" fill="#008080"/><path d="M438.24,866.5 L454.74,866.5 L446.49,880.1 Z" fill="#fff" stroke="#008080" stroke-width="1.1" stroke-linejoin="miter"/><path d="M438.24,866.5 L454.74,866.5 L451.99,871.03 L440.99,871.03 Z" fill="#008080"/><path d="M450.01,866.8 L466.51,866.8 L458.26,880.4 Z" fill="#fff" stroke="#008080" stroke-width="1.1" stroke-linejoin="miter"/><path d="M450.01,866.8 L466.51,866.8 L463.76,871.33 L452.76,871.33 Z" fill="#008080"/><path d="M461.78,867 L478.28,867 L470.03,880.6 Z" fill="#fff" stroke="#008080" stroke-width="1.1" stroke-linejoin="miter"/><path d="M461.78,867 L478.28,867 L475.53,871.53 L464.53,871.53 Z" fill="#008080"/><path d="M473.55,866.8 L490.05,866.8 L481.8,880.4 Z" fill="#fff" stroke="#008080" stroke-width="1.1" stroke-linejoin="miter"/><path d="M473.55,866.8 L490.05,866.8 L487.3,871.33 L476.3,871.33 Z" fill="#008080"/><path d="M485.32,910 L501.82,910 L493.57,923.6 Z" fill="#fff" stroke="#008080" stroke-width="1.1" stroke-linejoin="miter"/><path d="M485.32,910 L501.82,910 L499.07,914.53 L488.07,914.53 Z" fill="#008080"/><path d="M497.09,910 L513.59,910 L505.34,923.6 Z" fill="#fff" stroke="#008080" stroke-width="1.1" stroke-linejoin="miter"/><path d="M497.09,910 L513.59,910 L510.84,914.53 L499.84,914.53 Z" fill="#008080"/><path d="M508.86,910 L525.36,910 L517.11,923.6 Z" fill="#fff" stroke="#008080" stroke-width="1.1" stroke-linejoin="miter"/><path d="M508.86,910 L525.36,910 L522.61,914.53 L511.61,914.53 Z" fill="#008080"/><path d="M520.63,910.5 L537.13,910.5 L528.88,924.1 Z" fill="#fff" stroke="#008080" stroke-width="1.1" stroke-linejoin="miter"/><path d="M520.63,910.5 L537.13,910.5 L534.38,915.03 L523.38,915.03 Z" fill="#008080"/><path d="M532.4,911 L548.9,911 L540.65,924.6 Z" fill="#fff" stroke="#008080" stroke-width="1.1" stroke-linejoin="miter"/><path d="M532.4,911 L548.9,911 L546.15,915.53 L535.15,915.53 Z" fill="#008080"/><path d="M544.17,911 L560.67,911 L552.42,924.6 Z" fill="#fff" stroke="#008080" stroke-width="1.1" stroke-linejoin="miter"/><path d="M544.17,911 L560.67,911 L557.92,915.53 L546.92,915.53 Z" fill="#008080"/><path d="M555.94,912 L572.44,912 L564.19,925.6 Z" fill="#fff" stroke="#008080" stroke-width="1.1" stroke-linejoin="miter"/><path d="M555.94,912 L572.44,912 L569.69,916.53 L558.69,916.53 Z" fill="#008080"/><path d="M567.71,912.5 L584.21,912.5 L575.96,926.1 Z" fill="#fff" stroke="#008080" stroke-width="1.1" stroke-linejoin="miter"/><path d="M567.71,912.5 L584.21,912.5 L581.46,917.03 L570.46,917.03 Z" fill="#008080"/><path d="M579.48,913 L595.98,913 L587.73,926.6 Z" fill="#fff" stroke="#008080" stroke-width="1.1" stroke-linejoin="miter"/><path d="M579.48,913 L595.98,913 L593.23,917.53 L582.23,917.53 Z" fill="#008080"/><path d="M591.25,913.6 L607.75,913.6 L599.5,927.2 Z" fill="#fff" stroke="#008080" stroke-width="1.1" stroke-linejoin="miter"/><path d="M591.25,913.6 L607.75,913.6 L605,918.13 L594,918.13 Z" fill="#008080"/><path d="M603.02,950.6 L619.52,950.6 L611.27,964.2 Z" fill="#fff" stroke="#008080" stroke-width="1.1" stroke-linejoin="miter"/><path d="M603.02,950.6 L619.52,950.6 L616.77,955.13 L605.77,955.13 Z" fill="#008080"/><path d="M614.79,951 L631.29,951 L623.04,964.6 Z" fill="#fff" stroke="#008080" stroke-width="1.1" stroke-linejoin="miter"/><path d="M614.79,951 L631.29,951 L628.54,955.53 L617.54,955.53 Z" fill="#008080"/><path d="M626.56,950.5 L643.06,950.5 L634.81,964.1 Z" fill="#fff" stroke="#008080" stroke-width="1.1" stroke-linejoin="miter"/><path d="M626.56,950.5 L643.06,950.5 L640.31,955.03 L629.31,955.03 Z" fill="#008080"/><path d="M638.33,951 L654.83,951 L646.58,964.6 Z" fill="#fff" stroke="#008080" stroke-width="1.1" stroke-linejoin="miter"/><path d="M638.33,951 L654.83,951 L652.08,955.53 L641.08,955.53 Z" fill="#008080"/><path d="M650.1,952 L666.6,952 L658.35,965.6 Z" fill="#fff" stroke="#008080" stroke-width="1.1" stroke-linejoin="miter"/><path d="M650.1,952 L666.6,952 L663.85,956.53 L652.85,956.53 Z" fill="#008080"/><path d="M661.87,953 L678.37,953 L670.12,966.6 Z" fill="#fff" stroke="#008080" stroke-width="1.1" stroke-linejoin="miter"/><path d="M661.87,953 L678.37,953 L675.62,957.53 L664.62,957.53 Z" fill="#008080"/><path d="M673.64,954 L690.14,954 L681.89,967.6 Z" fill="#fff" stroke="#008080" stroke-width="1.1" stroke-linejoin="miter"/><path d="M673.64,954 L690.14,954 L687.39,958.53 L676.39,958.53 Z" fill="#008080"/><path d="M685.41,955 L701.91,955 L693.66,968.6 Z" fill="#fff" stroke="#008080" stroke-width="1.1" stroke-linejoin="miter"/><path d="M685.41,955 L701.91,955 L699.16,959.53 L688.16,959.53 Z" fill="#008080"/><path d="M697.18,956 L713.68,956 L705.43,969.6 Z" fill="#fff" stroke="#008080" stroke-width="1.1" stroke-linejoin="miter"/><path d="M697.18,956 L713.68,956 L710.93,960.53 L699.93,960.53 Z" fill="#008080"/><path d="M708.95,956.7 L725.45,956.7 L717.2,970.3 Z" fill="#fff" stroke="#008080" stroke-width="1.1" stroke-linejoin="miter"/><path d="M708.95,956.7 L725.45,956.7 L722.7,961.23 L711.7,961.23 Z" fill="#008080"/></g>
<rect x="129.5" y="645" width="587.5" height="430.7" fill="none" stroke="#000" stroke-width="2.8"/>
<line x1="246.4" y1="1075.7" x2="246.4" y2="1067.4" stroke="#000" stroke-width="2.8" stroke-linecap="round"/>
<line x1="364.1" y1="1075.7" x2="364.1" y2="1067.4" stroke="#000" stroke-width="2.8" stroke-linecap="round"/>
<line x1="481.8" y1="1075.7" x2="481.8" y2="1067.4" stroke="#000" stroke-width="2.8" stroke-linecap="round"/>
<line x1="599.5" y1="1075.7" x2="599.5" y2="1067.4" stroke="#000" stroke-width="2.8" stroke-linecap="round"/>
<line x1="187.55" y1="1075.7" x2="187.55" y2="1071.4" stroke="#000" stroke-width="2.8" stroke-linecap="round"/>
<line x1="305.25" y1="1075.7" x2="305.25" y2="1071.4" stroke="#000" stroke-width="2.8" stroke-linecap="round"/>
<line x1="422.95" y1="1075.7" x2="422.95" y2="1071.4" stroke="#000" stroke-width="2.8" stroke-linecap="round"/>
<line x1="540.65" y1="1075.7" x2="540.65" y2="1071.4" stroke="#000" stroke-width="2.8" stroke-linecap="round"/>
<line x1="658.35" y1="1075.7" x2="658.35" y2="1071.4" stroke="#000" stroke-width="2.8" stroke-linecap="round"/>
<line x1="129.5" y1="1003.92" x2="137.8" y2="1003.92" stroke="#000" stroke-width="2.8" stroke-linecap="round"/>
<line x1="129.5" y1="860.35" x2="137.8" y2="860.35" stroke="#000" stroke-width="2.8" stroke-linecap="round"/>
<line x1="129.5" y1="716.78" x2="137.8" y2="716.78" stroke="#000" stroke-width="2.8" stroke-linecap="round"/>
<line x1="129.5" y1="932.13" x2="133.8" y2="932.13" stroke="#000" stroke-width="2.8" stroke-linecap="round"/>
<line x1="129.5" y1="788.56" x2="133.8" y2="788.56" stroke="#000" stroke-width="2.8" stroke-linecap="round"/>
<text x="129.7" y="1115" font-size="33.8" text-anchor="middle" fill="#000" >0</text>
<text x="248.9" y="1115" font-size="33.8" text-anchor="middle" fill="#000" >10</text>
<text x="366.6" y="1115" font-size="33.8" text-anchor="middle" fill="#000" >20</text>
<text x="484.3" y="1115" font-size="33.8" text-anchor="middle" fill="#000" >30</text>
<text x="602" y="1115" font-size="33.8" text-anchor="middle" fill="#000" >40</text>
<text x="719.7" y="1115" font-size="33.8" text-anchor="middle" fill="#000" >50</text>
<text x="115" y="1014.52" font-size="33.8" text-anchor="end" fill="#000" >100</text>
<text x="115" y="870.95" font-size="33.8" text-anchor="end" fill="#000" >200</text>
<text x="115" y="727.38" font-size="33.8" text-anchor="end" fill="#000" >300</text>
<text x="423.5" y="1163.6" font-size="33.5" text-anchor="middle">Cycle number</text>
<text transform="translate(30,860) rotate(-90)" font-size="33.5" text-anchor="middle">Capacity (mAh g<tspan dy="-13" font-size="23.5">−1</tspan><tspan dy="13">)</tspan></text>
<text x="174" y="704" font-size="24" text-anchor="start" fill="#000" >1C</text>
<text x="295.5" y="726.8" font-size="24" text-anchor="start" fill="#000" >2C</text>
<text x="417" y="769" font-size="24" text-anchor="start" fill="#000" >5C</text>
<text x="523" y="812.7" font-size="24" text-anchor="start" fill="#000" >10C</text>
<text x="639" y="854.5" font-size="24" text-anchor="start" fill="#000" >20C</text>
<line x1="148.4" y1="993.4" x2="198" y2="993.4" stroke="#008080" stroke-width="3" />
<path d="M165,988.6 L181.6,988.6 L173.3,1003 Z" fill="#fff" stroke="#008080" stroke-width="1.1" stroke-linejoin="miter"/><path d="M165,988.6 L181.6,988.6 L178.83,993.4 L167.77,993.4 Z" fill="#008080"/>
<line x1="148.4" y1="1029.4" x2="198" y2="1029.4" stroke="#ed1c24" stroke-width="3" />
<circle cx="173" cy="1029.6" r="7" fill="#fff"/><path d="M166,1029.6 A7,7 0 0 0 180,1029.6 Z" fill="#ed1c24"/><circle cx="173" cy="1029.6" r="6.45" fill="none" stroke="#ee3b2b" stroke-width="1.1"/>
<text x="206" y="1003.6" font-size="29.5" text-anchor="start" fill="#008080" >TNO</text>
<text x="206" y="1037" font-size="29.5" text-anchor="start" fill="#ed1c24" >TNO<tspan dy="8.8" font-size="20.4">-x</tspan><tspan dy="-8.8" dx="3.0" font-size="24.2">@</tspan><tspan dx="3.0">C</tspan><tspan dy="8.8" font-size="20.4">3</tspan></text>
<rect x="911.35" y="1014.25" width="14.9" height="14.9" fill="#fff" stroke="#ee3b2b" stroke-width="1.1"/><rect x="910.8" y="1013.7" width="16" height="8" fill="#ed1c24"/><rect x="976.05" y="972.85" width="14.9" height="14.9" fill="#fff" stroke="#ee3b2b" stroke-width="1.1"/><rect x="975.5" y="972.3" width="16" height="8" fill="#ed1c24"/><rect x="1126.65" y="868.15" width="14.9" height="14.9" fill="#fff" stroke="#ee3b2b" stroke-width="1.1"/><rect x="1126.1" y="867.6" width="16" height="8" fill="#ed1c24"/><rect x="1253.85" y="759.05" width="14.9" height="14.9" fill="#fff" stroke="#ee3b2b" stroke-width="1.1"/><rect x="1253.3" y="758.5" width="16" height="8" fill="#ed1c24"/><path d="M908.2,1048.5 L929.2,1048.5 L918.7,1066.8 Z" fill="#fff" stroke="#008080" stroke-width="1.1" stroke-linejoin="miter"/><path d="M908.2,1048.5 L929.2,1048.5 L925.7,1054.6 L911.7,1054.6 Z" fill="#008080"/><path d="M972.3,1031.5 L993.3,1031.5 L982.8,1049.8 Z" fill="#fff" stroke="#008080" stroke-width="1.1" stroke-linejoin="miter"/><path d="M972.3,1031.5 L993.3,1031.5 L989.8,1037.6 L975.8,1037.6 Z" fill="#008080"/><path d="M1123.5,986.4 L1144.5,986.4 L1134,1004.7 Z" fill="#fff" stroke="#008080" stroke-width="1.1" stroke-linejoin="miter"/><path d="M1123.5,986.4 L1144.5,986.4 L1141,992.5 L1127,992.5 Z" fill="#008080"/><path d="M1251,918.5 L1272,918.5 L1261.5,936.8 Z" fill="#fff" stroke="#008080" stroke-width="1.1" stroke-linejoin="miter"/><path d="M1251,918.5 L1272,918.5 L1268.5,924.6 L1254.5,924.6 Z" fill="#008080"/><path d="M917.50,1026.40 C928.62,1018.32 948.83,1003.57 984.20,977.90 C1019.57,952.23 1084.65,905.73 1129.70,872.40 C1174.75,839.07 1233.70,793.65 1254.50,777.90" fill="none" stroke="#ed1c24" stroke-width="6" stroke-linecap="round" stroke-dasharray="8 13.5"/><path d="M916.7,1061.7 L1254.5,935.5" fill="none" stroke="#008080" stroke-width="6" stroke-linecap="round" stroke-dasharray="9 14.5"/>
<rect x="879" y="639.5" width="436.8" height="436" fill="none" stroke="#000" stroke-width="2.8"/>
<line x1="918" y1="1075.5" x2="918" y2="1067.4" stroke="#000" stroke-width="2.8" stroke-linecap="round"/>
<line x1="1077" y1="1075.5" x2="1077" y2="1067.4" stroke="#000" stroke-width="2.8" stroke-linecap="round"/>
<line x1="1236" y1="1075.5" x2="1236" y2="1067.4" stroke="#000" stroke-width="2.8" stroke-linecap="round"/>
<line x1="997.5" y1="1075.5" x2="997.5" y2="1071.4" stroke="#000" stroke-width="2.8" stroke-linecap="round"/>
<line x1="1156.5" y1="1075.5" x2="1156.5" y2="1071.4" stroke="#000" stroke-width="2.8" stroke-linecap="round"/>
<line x1="879" y1="930.16" x2="887.1" y2="930.16" stroke="#000" stroke-width="2.8" stroke-linecap="round"/>
<line x1="879" y1="784.82" x2="887.1" y2="784.82" stroke="#000" stroke-width="2.8" stroke-linecap="round"/>
<line x1="879" y1="1002.83" x2="883.1" y2="1002.83" stroke="#000" stroke-width="2.8" stroke-linecap="round"/>
<line x1="879" y1="857.49" x2="883.1" y2="857.49" stroke="#000" stroke-width="2.8" stroke-linecap="round"/>
<line x1="879" y1="712.15" x2="883.1" y2="712.15" stroke="#000" stroke-width="2.8" stroke-linecap="round"/>
<text x="918" y="1115" font-size="33.8" text-anchor="middle" fill="#000" >0.01</text>
<text x="1077" y="1115" font-size="33.8" text-anchor="middle" fill="#000" >0.02</text>
<text x="1236" y="1115" font-size="33.8" text-anchor="middle" fill="#000" >0.03</text>
<text x="866" y="1087.1" font-size="33.8" text-anchor="end" fill="#000" >0</text>
<text x="866" y="941.76" font-size="33.8" text-anchor="end" fill="#000" >2</text>
<text x="866" y="796.42" font-size="33.8" text-anchor="end" fill="#000" >4</text>
<text x="866" y="651.08" font-size="33.8" text-anchor="end" fill="#000" >6</text>
<text x="1097.5" y="1163" font-size="33.5" text-anchor="middle">V<tspan dy="-13" font-size="23.5">1/2</tspan><tspan dy="13">/(V s</tspan><tspan dy="-13" font-size="23.5">−1</tspan><tspan dy="13">)</tspan><tspan dy="-13" font-size="23.5">1/2</tspan></text>
<text transform="translate(812.6,857) rotate(-90)" font-size="33.5" text-anchor="middle"><tspan font-style="italic">I</tspan><tspan dy="8" font-size="23.5">p</tspan><tspan dy="-8">/(Ag</tspan><tspan dy="-13" font-size="23.5">−1</tspan><tspan dy="13">)</tspan></text>
<path d="M914,674.5 L935,674.5 L924.5,692.5 Z" fill="#fff" stroke="#008080" stroke-width="1.1" stroke-linejoin="miter"/><path d="M914,674.5 L935,674.5 L931.5,680.5 L917.5,680.5 Z" fill="#008080"/>
<rect x="916.55" y="709.35" width="15.3" height="15.3" fill="#fff" stroke="#ee3b2b" stroke-width="1.1"/><rect x="916" y="708.8" width="16.4" height="8.2" fill="#ed1c24"/>
<text x="948" y="693.6" font-size="29.5" text-anchor="start" fill="#008080" >TNO</text>
<text x="948" y="727" font-size="29.5" text-anchor="start" fill="#ed1c24" >TNO<tspan dy="8.8" font-size="20.4">-x</tspan><tspan dy="-8.8" dx="3.0" font-size="24.2">@</tspan><tspan dx="3.0">C</tspan><tspan dy="8.8" font-size="20.4">3</tspan></text>
<g clip-path="url(#ce)"><path d="M128.6,1369.3 L151.15,1369.38 L173.7,1369.45 L196.25,1369.53 L218.8,1369.61 L241.35,1369.68 L263.9,1369.76 L286.45,1369.83 L309,1369.91 L331.55,1369.99 L354.1,1370.06 L376.65,1370.14 L399.2,1370.21 L421.75,1370.29 L444.3,1370.37 L466.85,1370.44 L489.4,1370.52 L511.95,1370.59 L534.5,1370.67 L557.05,1370.75 L579.6,1370.82 L602.15,1370.9 L624.7,1370.97 L647.25,1371.05 L669.8,1371.13 L692.35,1371.2 L714.9,1371.28 L737.45,1371.35 L760,1371.43 L782.55,1371.51 L805.1,1371.58 L827.65,1371.66 L850.2,1371.74 L872.75,1371.81 L895.3,1371.89 L917.85,1371.96 L940.4,1372.04 L962.95,1372.12 L985.5,1372.19 L1008.05,1372.27 L1030.6,1372.34 L1053.15,1372.42 L1075.7,1372.5 L1098.25,1372.57 L1120.8,1375.65 L1143.35,1372.72 L1165.9,1372.8 L1188.45,1372.88 L1211,1372.95 L1233.55,1373.03 L1256.1,1373.1" fill="none" stroke="#ed1c24" stroke-width="3"/><circle cx="128.6" cy="1369.3" r="8.5" fill="#fff"/><path d="M120.1,1369.3 A8.5,8.5 0 0 1 137.1,1369.3 Z" fill="#ed1c24"/><circle cx="128.6" cy="1369.3" r="7.95" fill="none" stroke="#ee3b2b" stroke-width="1.1"/><circle cx="151.15" cy="1369.38" r="8.5" fill="#fff"/><path d="M142.65,1369.38 A8.5,8.5 0 0 1 159.65,1369.38 Z" fill="#ed1c24"/><circle cx="151.15" cy="1369.38" r="7.95" fill="none" stroke="#ee3b2b" stroke-width="1.1"/><circle cx="173.7" cy="1369.45" r="8.5" fill="#fff"/><path d="M165.2,1369.45 A8.5,8.5 0 0 1 182.2,1369.45 Z" fill="#ed1c24"/><circle cx="173.7" cy="1369.45" r="7.95" fill="none" stroke="#ee3b2b" stroke-width="1.1"/><circle cx="196.25" cy="1369.53" r="8.5" fill="#fff"/><path d="M187.75,1369.53 A8.5,8.5 0 0 1 204.75,1369.53 Z" fill="#ed1c24"/><circle cx="196.25" cy="1369.53" r="7.95" fill="none" stroke="#ee3b2b" stroke-width="1.1"/><circle cx="218.8" cy="1369.61" r="8.5" fill="#fff"/><path d="M210.3,1369.61 A8.5,8.5 0 0 1 227.3,1369.61 Z" fill="#ed1c24"/><circle cx="218.8" cy="1369.61" r="7.95" fill="none" stroke="#ee3b2b" stroke-width="1.1"/><circle cx="241.35" cy="1369.68" r="8.5" fill="#fff"/><path d="M232.85,1369.68 A8.5,8.5 0 0 1 249.85,1369.68 Z" fill="#ed1c24"/><circle cx="241.35" cy="1369.68" r="7.95" fill="none" stroke="#ee3b2b" stroke-width="1.1"/><circle cx="263.9" cy="1369.76" r="8.5" fill="#fff"/><path d="M255.4,1369.76 A8.5,8.5 0 0 1 272.4,1369.76 Z" fill="#ed1c24"/><circle cx="263.9" cy="1369.76" r="7.95" fill="none" stroke="#ee3b2b" stroke-width="1.1"/><circle cx="286.45" cy="1369.83" r="8.5" fill="#fff"/><path d="M277.95,1369.83 A8.5,8.5 0 0 1 294.95,1369.83 Z" fill="#ed1c24"/><circle cx="286.45" cy="1369.83" r="7.95" fill="none" stroke="#ee3b2b" stroke-width="1.1"/><circle cx="309" cy="1369.91" r="8.5" fill="#fff"/><path d="M300.5,1369.91 A8.5,8.5 0 0 1 317.5,1369.91 Z" fill="#ed1c24"/><circle cx="309" cy="1369.91" r="7.95" fill="none" stroke="#ee3b2b" stroke-width="1.1"/><circle cx="331.55" cy="1369.99" r="8.5" fill="#fff"/><path d="M323.05,1369.99 A8.5,8.5 0 0 1 340.05,1369.99 Z" fill="#ed1c24"/><circle cx="331.55" cy="1369.99" r="7.95" fill="none" stroke="#ee3b2b" stroke-width="1.1"/><circle cx="354.1" cy="1370.06" r="8.5" fill="#fff"/><path d="M345.6,1370.06 A8.5,8.5 0 0 1 362.6,1370.06 Z" fill="#ed1c24"/><circle cx="354.1" cy="1370.06" r="7.95" fill="none" stroke="#ee3b2b" stroke-width="1.1"/><circle cx="376.65" cy="1370.14" r="8.5" fill="#fff"/><path d="M368.15,1370.14 A8.5,8.5 0 0 1 385.15,1370.14 Z" fill="#ed1c24"/><circle cx="376.65" cy="1370.14" r="7.95" fill="none" stroke="#ee3b2b" stroke-width="1.1"/><circle cx="399.2" cy="1370.21" r="8.5" fill="#fff"/><path d="M390.7,1370.21 A8.5,8.5 0 0 1 407.7,1370.21 Z" fill="#ed1c24"/><circle cx="399.2" cy="1370.21" r="7.95" fill="none" stroke="#ee3b2b" stroke-width="1.1"/><circle cx="421.75" cy="1370.29" r="8.5" fill="#fff"/><path d="M413.25,1370.29 A8.5,8.5 0 0 1 430.25,1370.29 Z" fill="#ed1c24"/><circle cx="421.75" cy="1370.29" r="7.95" fill="none" stroke="#ee3b2b" stroke-width="1.1"/><circle cx="444.3" cy="1370.37" r="8.5" fill="#fff"/><path d="M435.8,1370.37 A8.5,8.5 0 0 1 452.8,1370.37 Z" fill="#ed1c24"/><circle cx="444.3" cy="1370.37" r="7.95" fill="none" stroke="#ee3b2b" stroke-width="1.1"/><circle cx="466.85" cy="1370.44" r="8.5" fill="#fff"/><path d="M458.35,1370.44 A8.5,8.5 0 0 1 475.35,1370.44 Z" fill="#ed1c24"/><circle cx="466.85" cy="1370.44" r="7.95" fill="none" stroke="#ee3b2b" stroke-width="1.1"/><circle cx="489.4" cy="1370.52" r="8.5" fill="#fff"/><path d="M480.9,1370.52 A8.5,8.5 0 0 1 497.9,1370.52 Z" fill="#ed1c24"/><circle cx="489.4" cy="1370.52" r="7.95" fill="none" stroke="#ee3b2b" stroke-width="1.1"/><circle cx="511.95" cy="1370.59" r="8.5" fill="#fff"/><path d="M503.45,1370.59 A8.5,8.5 0 0 1 520.45,1370.59 Z" fill="#ed1c24"/><circle cx="511.95" cy="1370.59" r="7.95" fill="none" stroke="#ee3b2b" stroke-width="1.1"/><circle cx="534.5" cy="1370.67" r="8.5" fill="#fff"/><path d="M526,1370.67 A8.5,8.5 0 0 1 543,1370.67 Z" fill="#ed1c24"/><circle cx="534.5" cy="1370.67" r="7.95" fill="none" stroke="#ee3b2b" stroke-width="1.1"/><circle cx="557.05" cy="1370.75" r="8.5" fill="#fff"/><path d="M548.55,1370.75 A8.5,8.5 0 0 1 565.55,1370.75 Z" fill="#ed1c24"/><circle cx="557.05" cy="1370.75" r="7.95" fill="none" stroke="#ee3b2b" stroke-width="1.1"/><circle cx="579.6" cy="1370.82" r="8.5" fill="#fff"/><path d="M571.1,1370.82 A8.5,8.5 0 0 1 588.1,1370.82 Z" fill="#ed1c24"/><circle cx="579.6" cy="1370.82" r="7.95" fill="none" stroke="#ee3b2b" stroke-width="1.1"/><circle cx="602.15" cy="1370.9" r="8.5" fill="#fff"/><path d="M593.65,1370.9 A8.5,8.5 0 0 1 610.65,1370.9 Z" fill="#ed1c24"/><circle cx="602.15" cy="1370.9" r="7.95" fill="none" stroke="#ee3b2b" stroke-width="1.1"/><circle cx="624.7" cy="1370.97" r="8.5" fill="#fff"/><path d="M616.2,1370.97 A8.5,8.5 0 0 1 633.2,1370.97 Z" fill="#ed1c24"/><circle cx="624.7" cy="1370.97" r="7.95" fill="none" stroke="#ee3b2b" stroke-width="1.1"/><circle cx="647.25" cy="1371.05" r="8.5" fill="#fff"/><path d="M638.75,1371.05 A8.5,8.5 0 0 1 655.75,1371.05 Z" fill="#ed1c24"/><circle cx="647.25" cy="1371.05" r="7.95" fill="none" stroke="#ee3b2b" stroke-width="1.1"/><circle cx="669.8" cy="1371.13" r="8.5" fill="#fff"/><path d="M661.3,1371.13 A8.5,8.5 0 0 1 678.3,1371.13 Z" fill="#ed1c24"/><circle cx="669.8" cy="1371.13" r="7.95" fill="none" stroke="#ee3b2b" stroke-width="1.1"/><circle cx="692.35" cy="1371.2" r="8.5" fill="#fff"/><path d="M683.85,1371.2 A8.5,8.5 0 0 1 700.85,1371.2 Z" fill="#ed1c24"/><circle cx="692.35" cy="1371.2" r="7.95" fill="none" stroke="#ee3b2b" stroke-width="1.1"/><circle cx="714.9" cy="1371.28" r="8.5" fill="#fff"/><path d="M706.4,1371.28 A8.5,8.5 0 0 1 723.4,1371.28 Z" fill="#ed1c24"/><circle cx="714.9" cy="1371.28" r="7.95" fill="none" stroke="#ee3b2b" stroke-width="1.1"/><circle cx="737.45" cy="1371.35" r="8.5" fill="#fff"/><path d="M728.95,1371.35 A8.5,8.5 0 0 1 745.95,1371.35 Z" fill="#ed1c24"/><circle cx="737.45" cy="1371.35" r="7.95" fill="none" stroke="#ee3b2b" stroke-width="1.1"/><circle cx="760" cy="1371.43" r="8.5" fill="#fff"/><path d="M751.5,1371.43 A8.5,8.5 0 0 1 768.5,1371.43 Z" fill="#ed1c24"/><circle cx="760" cy="1371.43" r="7.95" fill="none" stroke="#ee3b2b" stroke-width="1.1"/><circle cx="782.55" cy="1371.51" r="8.5" fill="#fff"/><path d="M774.05,1371.51 A8.5,8.5 0 0 1 791.05,1371.51 Z" fill="#ed1c24"/><circle cx="782.55" cy="1371.51" r="7.95" fill="none" stroke="#ee3b2b" stroke-width="1.1"/><circle cx="805.1" cy="1371.58" r="8.5" fill="#fff"/><path d="M796.6,1371.58 A8.5,8.5 0 0 1 813.6,1371.58 Z" fill="#ed1c24"/><circle cx="805.1" cy="1371.58" r="7.95" fill="none" stroke="#ee3b2b" stroke-width="1.1"/><circle cx="827.65" cy="1371.66" r="8.5" fill="#fff"/><path d="M819.15,1371.66 A8.5,8.5 0 0 1 836.15,1371.66 Z" fill="#ed1c24"/><circle cx="827.65" cy="1371.66" r="7.95" fill="none" stroke="#ee3b2b" stroke-width="1.1"/><circle cx="850.2" cy="1371.74" r="8.5" fill="#fff"/><path d="M841.7,1371.74 A8.5,8.5 0 0 1 858.7,1371.74 Z" fill="#ed1c24"/><circle cx="850.2" cy="1371.74" r="7.95" fill="none" stroke="#ee3b2b" stroke-width="1.1"/><circle cx="872.75" cy="1371.81" r="8.5" fill="#fff"/><path d="M864.25,1371.81 A8.5,8.5 0 0 1 881.25,1371.81 Z" fill="#ed1c24"/><circle cx="872.75" cy="1371.81" r="7.95" fill="none" stroke="#ee3b2b" stroke-width="1.1"/><circle cx="895.3" cy="1371.89" r="8.5" fill="#fff"/><path d="M886.8,1371.89 A8.5,8.5 0 0 1 903.8,1371.89 Z" fill="#ed1c24"/><circle cx="895.3" cy="1371.89" r="7.95" fill="none" stroke="#ee3b2b" stroke-width="1.1"/><circle cx="917.85" cy="1371.96" r="8.5" fill="#fff"/><path d="M909.35,1371.96 A8.5,8.5 0 0 1 926.35,1371.96 Z" fill="#ed1c24"/><circle cx="917.85" cy="1371.96" r="7.95" fill="none" stroke="#ee3b2b" stroke-width="1.1"/><circle cx="940.4" cy="1372.04" r="8.5" fill="#fff"/><path d="M931.9,1372.04 A8.5,8.5 0 0 1 948.9,1372.04 Z" fill="#ed1c24"/><circle cx="940.4" cy="1372.04" r="7.95" fill="none" stroke="#ee3b2b" stroke-width="1.1"/><circle cx="962.95" cy="1372.12" r="8.5" fill="#fff"/><path d="M954.45,1372.12 A8.5,8.5 0 0 1 971.45,1372.12 Z" fill="#ed1c24"/><circle cx="962.95" cy="1372.12" r="7.95" fill="none" stroke="#ee3b2b" stroke-width="1.1"/><circle cx="985.5" cy="1372.19" r="8.5" fill="#fff"/><path d="M977,1372.19 A8.5,8.5 0 0 1 994,1372.19 Z" fill="#ed1c24"/><circle cx="985.5" cy="1372.19" r="7.95" fill="none" stroke="#ee3b2b" stroke-width="1.1"/><circle cx="1008.05" cy="1372.27" r="8.5" fill="#fff"/><path d="M999.55,1372.27 A8.5,8.5 0 0 1 1016.55,1372.27 Z" fill="#ed1c24"/><circle cx="1008.05" cy="1372.27" r="7.95" fill="none" stroke="#ee3b2b" stroke-width="1.1"/><circle cx="1030.6" cy="1372.34" r="8.5" fill="#fff"/><path d="M1022.1,1372.34 A8.5,8.5 0 0 1 1039.1,1372.34 Z" fill="#ed1c24"/><circle cx="1030.6" cy="1372.34" r="7.95" fill="none" stroke="#ee3b2b" stroke-width="1.1"/><circle cx="1053.15" cy="1372.42" r="8.5" fill="#fff"/><path d="M1044.65,1372.42 A8.5,8.5 0 0 1 1061.65,1372.42 Z" fill="#ed1c24"/><circle cx="1053.15" cy="1372.42" r="7.95" fill="none" stroke="#ee3b2b" stroke-width="1.1"/><circle cx="1075.7" cy="1372.5" r="8.5" fill="#fff"/><path d="M1067.2,1372.5 A8.5,8.5 0 0 1 1084.2,1372.5 Z" fill="#ed1c24"/><circle cx="1075.7" cy="1372.5" r="7.95" fill="none" stroke="#ee3b2b" stroke-width="1.1"/><circle cx="1098.25" cy="1372.57" r="8.5" fill="#fff"/><path d="M1089.75,1372.57 A8.5,8.5 0 0 1 1106.75,1372.57 Z" fill="#ed1c24"/><circle cx="1098.25" cy="1372.57" r="7.95" fill="none" stroke="#ee3b2b" stroke-width="1.1"/><circle cx="1120.8" cy="1375.65" r="8.5" fill="#fff"/><path d="M1112.3,1375.65 A8.5,8.5 0 0 1 1129.3,1375.65 Z" fill="#ed1c24"/><circle cx="1120.8" cy="1375.65" r="7.95" fill="none" stroke="#ee3b2b" stroke-width="1.1"/><circle cx="1143.35" cy="1372.72" r="8.5" fill="#fff"/><path d="M1134.85,1372.72 A8.5,8.5 0 0 1 1151.85,1372.72 Z" fill="#ed1c24"/><circle cx="1143.35" cy="1372.72" r="7.95" fill="none" stroke="#ee3b2b" stroke-width="1.1"/><circle cx="1165.9" cy="1372.8" r="8.5" fill="#fff"/><path d="M1157.4,1372.8 A8.5,8.5 0 0 1 1174.4,1372.8 Z" fill="#ed1c24"/><circle cx="1165.9" cy="1372.8" r="7.95" fill="none" stroke="#ee3b2b" stroke-width="1.1"/><circle cx="1188.45" cy="1372.88" r="8.5" fill="#fff"/><path d="M1179.95,1372.88 A8.5,8.5 0 0 1 1196.95,1372.88 Z" fill="#ed1c24"/><circle cx="1188.45" cy="1372.88" r="7.95" fill="none" stroke="#ee3b2b" stroke-width="1.1"/><circle cx="1211" cy="1372.95" r="8.5" fill="#fff"/><path d="M1202.5,1372.95 A8.5,8.5 0 0 1 1219.5,1372.95 Z" fill="#ed1c24"/><circle cx="1211" cy="1372.95" r="7.95" fill="none" stroke="#ee3b2b" stroke-width="1.1"/><circle cx="1233.55" cy="1373.03" r="8.5" fill="#fff"/><path d="M1225.05,1373.03 A8.5,8.5 0 0 1 1242.05,1373.03 Z" fill="#ed1c24"/><circle cx="1233.55" cy="1373.03" r="7.95" fill="none" stroke="#ee3b2b" stroke-width="1.1"/><circle cx="1256.1" cy="1373.1" r="8.5" fill="#fff"/><path d="M1247.6,1373.1 A8.5,8.5 0 0 1 1264.6,1373.1 Z" fill="#ed1c24"/><circle cx="1256.1" cy="1373.1" r="7.95" fill="none" stroke="#ee3b2b" stroke-width="1.1"/><path d="M144.4,1467.7 L162.6,1468.9 L180.8,1468.9 L198.9,1470.1 L216.6,1470.1 L234.8,1468.9 L253,1470.1 L271.2,1468.9 L289.4,1470.1 L306.8,1470.1 L325,1472.5 L343.2,1471.3 L361.4,1473.7 L379.5,1473.7 L397.7,1476.1 L415.4,1476.1 L433.6,1478.8 L451.8,1479.3 L469.5,1481.7 L487.7,1480.3 L505.6,1482.2 L523.6,1484.1 L541.5,1485.8 L559.7,1484.6 L577.9,1485.8 L596.1,1485.1 L613.8,1486.6 L631.7,1485.8 L649.9,1487.5 L668.1,1487.1 L686.2,1488.3 L704.4,1489 L722.1,1489 L740.4,1490.7 L758.6,1491.4 L776.5,1490.2 L794.2,1491.4 L812.4,1492.6 L830.6,1492.6 L848.8,1492.4 L867,1494.3 L885.2,1493.8 L902.8,1495.5 L920.3,1496 L938.5,1495.9 L957.5,1496.3 L975.2,1495.5 L993.3,1496.3 L1011,1496.3 L1029.2,1496.8 L1047.2,1498 L1065.3,1498.7 L1083,1498.7 L1101.2,1498.7 L1121,1500.4 L1137.6,1501.1 L1155.3,1501.6 L1173.2,1502.1 L1191.4,1502.8 L1209.1,1502.1 L1227.3,1502.8 L1245.5,1502.8" fill="none" stroke="#008080" stroke-width="3"/><path d="M144.4,1456.37 L154.1,1473.37 L134.7,1473.37 Z" fill="#fff" stroke="#008080" stroke-width="1.1" stroke-linejoin="miter"/><path d="M144.4,1456.37 L150.87,1467.7 L137.93,1467.7 Z" fill="#008080"/><path d="M162.6,1457.57 L172.3,1474.57 L152.9,1474.57 Z" fill="#fff" stroke="#008080" stroke-width="1.1" stroke-linejoin="miter"/><path d="M162.6,1457.57 L169.07,1468.9 L156.13,1468.9 Z" fill="#008080"/><path d="M180.8,1457.57 L190.5,1474.57 L171.1,1474.57 Z" fill="#fff" stroke="#008080" stroke-width="1.1" stroke-linejoin="miter"/><path d="M180.8,1457.57 L187.27,1468.9 L174.33,1468.9 Z" fill="#008080"/><path d="M198.9,1458.77 L208.6,1475.77 L189.2,1475.77 Z" fill="#fff" stroke="#008080" stroke-width="1.1" stroke-linejoin="miter"/><path d="M198.9,1458.77 L205.37,1470.1 L192.43,1470.1 Z" fill="#008080"/><path d="M216.6,1458.77 L226.3,1475.77 L206.9,1475.77 Z" fill="#fff" stroke="#008080" stroke-width="1.1" stroke-linejoin="miter"/><path d="M216.6,1458.77 L223.07,1470.1 L210.13,1470.1 Z" fill="#008080"/><path d="M234.8,1457.57 L244.5,1474.57 L225.1,1474.57 Z" fill="#fff" stroke="#008080" stroke-width="1.1" stroke-linejoin="miter"/><path d="M234.8,1457.57 L241.27,1468.9 L228.33,1468.9 Z" fill="#008080"/><path d="M253,1458.77 L262.7,1475.77 L243.3,1475.77 Z" fill="#fff" stroke="#008080" stroke-width="1.1" stroke-linejoin="miter"/><path d="M253,1458.77 L259.47,1470.1 L246.53,1470.1 Z" fill="#008080"/><path d="M271.2,1457.57 L280.9,1474.57 L261.5,1474.57 Z" fill="#fff" stroke="#008080" stroke-width="1.1" stroke-linejoin="miter"/><path d="M271.2,1457.57 L277.67,1468.9 L264.73,1468.9 Z" fill="#008080"/><path d="M289.4,1458.77 L299.1,1475.77 L279.7,1475.77 Z" fill="#fff" stroke="#008080" stroke-width="1.1" stroke-linejoin="miter"/><path d="M289.4,1458.77 L295.87,1470.1 L282.93,1470.1 Z" fill="#008080"/><path d="M306.8,1458.77 L316.5,1475.77 L297.1,1475.77 Z" fill="#fff" stroke="#008080" stroke-width="1.1" stroke-linejoin="miter"/><path d="M306.8,1458.77 L313.27,1470.1 L300.33,1470.1 Z" fill="#008080"/><path d="M325,1461.17 L334.7,1478.17 L315.3,1478.17 Z" fill="#fff" stroke="#008080" stroke-width="1.1" stroke-linejoin="miter"/><path d="M325,1461.17 L331.47,1472.5 L318.53,1472.5 Z" fill="#008080"/><path d="M343.2,1459.97 L352.9,1476.97 L333.5,1476.97 Z" fill="#fff" stroke="#008080" stroke-width="1.1" stroke-linejoin="miter"/><path d="M343.2,1459.97 L349.67,1471.3 L336.73,1471.3 Z" fill="#008080"/><path d="M361.4,1462.37 L371.1,1479.37 L351.7,1479.37 Z" fill="#fff" stroke="#008080" stroke-width="1.1" stroke-linejoin="miter"/><path d="M361.4,1462.37 L367.87,1473.7 L354.93,1473.7 Z" fill="#008080"/><path d="M379.5,1462.37 L389.2,1479.37 L369.8,1479.37 Z" fill="#fff" stroke="#008080" stroke-width="1.1" stroke-linejoin="miter"/><path d="M379.5,1462.37 L385.97,1473.7 L373.03,1473.7 Z" fill="#008080"/><path d="M397.7,1464.77 L407.4,1481.77 L388,1481.77 Z" fill="#fff" stroke="#008080" stroke-width="1.1" stroke-linejoin="miter"/><path d="M397.7,1464.77 L404.17,1476.1 L391.23,1476.1 Z" fill="#008080"/><path d="M415.4,1464.77 L425.1,1481.77 L405.7,1481.77 Z" fill="#fff" stroke="#008080" stroke-width="1.1" stroke-linejoin="miter"/><path d="M415.4,1464.77 L421.87,1476.1 L408.93,1476.1 Z" fill="#008080"/><path d="M433.6,1467.47 L443.3,1484.47 L423.9,1484.47 Z" fill="#fff" stroke="#008080" stroke-width="1.1" stroke-linejoin="miter"/><path d="M433.6,1467.47 L440.07,1478.8 L427.13,1478.8 Z" fill="#008080"/><path d="M451.8,1467.97 L461.5,1484.97 L442.1,1484.97 Z" fill="#fff" stroke="#008080" stroke-width="1.1" stroke-linejoin="miter"/><path d="M451.8,1467.97 L458.27,1479.3 L445.33,1479.3 Z" fill="#008080"/><path d="M469.5,1470.37 L479.2,1487.37 L459.8,1487.37 Z" fill="#fff" stroke="#008080" stroke-width="1.1" stroke-linejoin="miter"/><path d="M469.5,1470.37 L475.97,1481.7 L463.03,1481.7 Z" fill="#008080"/><path d="M487.7,1468.97 L497.4,1485.97 L478,1485.97 Z" fill="#fff" stroke="#008080" stroke-width="1.1" stroke-linejoin="miter"/><path d="M487.7,1468.97 L494.17,1480.3 L481.23,1480.3 Z" fill="#008080"/><path d="M505.6,1470.87 L515.3,1487.87 L495.9,1487.87 Z" fill="#fff" stroke="#008080" stroke-width="1.1" stroke-linejoin="miter"/><path d="M505.6,1470.87 L512.07,1482.2 L499.13,1482.2 Z" fill="#008080"/><path d="M523.6,1472.77 L533.3,1489.77 L513.9,1489.77 Z" fill="#fff" stroke="#008080" stroke-width="1.1" stroke-linejoin="miter"/><path d="M523.6,1472.77 L530.07,1484.1 L517.13,1484.1 Z" fill="#008080"/><path d="M541.5,1474.47 L551.2,1491.47 L531.8,1491.47 Z" fill="#fff" stroke="#008080" stroke-width="1.1" stroke-linejoin="miter"/><path d="M541.5,1474.47 L547.97,1485.8 L535.03,1485.8 Z" fill="#008080"/><path d="M559.7,1473.27 L569.4,1490.27 L550,1490.27 Z" fill="#fff" stroke="#008080" stroke-width="1.1" stroke-linejoin="miter"/><path d="M559.7,1473.27 L566.17,1484.6 L553.23,1484.6 Z" fill="#008080"/><path d="M577.9,1474.47 L587.6,1491.47 L568.2,1491.47 Z" fill="#fff" stroke="#008080" stroke-width="1.1" stroke-linejoin="miter"/><path d="M577.9,1474.47 L584.37,1485.8 L571.43,1485.8 Z" fill="#008080"/><path d="M596.1,1473.77 L605.8,1490.77 L586.4,1490.77 Z" fill="#fff" stroke="#008080" stroke-width="1.1" stroke-linejoin="miter"/><path d="M596.1,1473.77 L602.57,1485.1 L589.63,1485.1 Z" fill="#008080"/><path d="M613.8,1475.27 L623.5,1492.27 L604.1,1492.27 Z" fill="#fff" stroke="#008080" stroke-width="1.1" stroke-linejoin="miter"/><path d="M613.8,1475.27 L620.27,1486.6 L607.33,1486.6 Z" fill="#008080"/><path d="M631.7,1474.47 L641.4,1491.47 L622,1491.47 Z" fill="#fff" stroke="#008080" stroke-width="1.1" stroke-linejoin="miter"/><path d="M631.7,1474.47 L638.17,1485.8 L625.23,1485.8 Z" fill="#008080"/><path d="M649.9,1476.17 L659.6,1493.17 L640.2,1493.17 Z" fill="#fff" stroke="#008080" stroke-width="1.1" stroke-linejoin="miter"/><path d="M649.9,1476.17 L656.37,1487.5 L643.43,1487.5 Z" fill="#008080"/><path d="M668.1,1475.77 L677.8,1492.77 L658.4,1492.77 Z" fill="#fff" stroke="#008080" stroke-width="1.1" stroke-linejoin="miter"/><path d="M668.1,1475.77 L674.57,1487.1 L661.63,1487.1 Z" fill="#008080"/><path d="M686.2,1476.97 L695.9,1493.97 L676.5,1493.97 Z" fill="#fff" stroke="#008080" stroke-width="1.1" stroke-linejoin="miter"/><path d="M686.2,1476.97 L692.67,1488.3 L679.73,1488.3 Z" fill="#008080"/><path d="M704.4,1477.67 L714.1,1494.67 L694.7,1494.67 Z" fill="#fff" stroke="#008080" stroke-width="1.1" stroke-linejoin="miter"/><path d="M704.4,1477.67 L710.87,1489 L697.93,1489 Z" fill="#008080"/><path d="M722.1,1477.67 L731.8,1494.67 L712.4,1494.67 Z" fill="#fff" stroke="#008080" stroke-width="1.1" stroke-linejoin="miter"/><path d="M722.1,1477.67 L728.57,1489 L715.63,1489 Z" fill="#008080"/><path d="M740.4,1479.37 L750.1,1496.37 L730.7,1496.37 Z" fill="#fff" stroke="#008080" stroke-width="1.1" stroke-linejoin="miter"/><path d="M740.4,1479.37 L746.87,1490.7 L733.93,1490.7 Z" fill="#008080"/><path d="M758.6,1480.07 L768.3,1497.07 L748.9,1497.07 Z" fill="#fff" stroke="#008080" stroke-width="1.1" stroke-linejoin="miter"/><path d="M758.6,1480.07 L765.07,1491.4 L752.13,1491.4 Z" fill="#008080"/><path d="M776.5,1478.87 L786.2,1495.87 L766.8,1495.87 Z" fill="#fff" stroke="#008080" stroke-width="1.1" stroke-linejoin="miter"/><path d="M776.5,1478.87 L782.97,1490.2 L770.03,1490.2 Z" fill="#008080"/><path d="M794.2,1480.07 L803.9,1497.07 L784.5,1497.07 Z" fill="#fff" stroke="#008080" stroke-width="1.1" stroke-linejoin="miter"/><path d="M794.2,1480.07 L800.67,1491.4 L787.73,1491.4 Z" fill="#008080"/><path d="M812.4,1481.27 L822.1,1498.27 L802.7,1498.27 Z" fill="#fff" stroke="#008080" stroke-width="1.1" stroke-linejoin="miter"/><path d="M812.4,1481.27 L818.87,1492.6 L805.93,1492.6 Z" fill="#008080"/><path d="M830.6,1481.27 L840.3,1498.27 L820.9,1498.27 Z" fill="#fff" stroke="#008080" stroke-width="1.1" stroke-linejoin="miter"/><path d="M830.6,1481.27 L837.07,1492.6 L824.13,1492.6 Z" fill="#008080"/><path d="M848.8,1481.07 L858.5,1498.07 L839.1,1498.07 Z" fill="#fff" stroke="#008080" stroke-width="1.1" stroke-linejoin="miter"/><path d="M848.8,1481.07 L855.27,1492.4 L842.33,1492.4 Z" fill="#008080"/><path d="M867,1482.97 L876.7,1499.97 L857.3,1499.97 Z" fill="#fff" stroke="#008080" stroke-width="1.1" stroke-linejoin="miter"/><path d="M867,1482.97 L873.47,1494.3 L860.53,1494.3 Z" fill="#008080"/><path d="M885.2,1482.47 L894.9,1499.47 L875.5,1499.47 Z" fill="#fff" stroke="#008080" stroke-width="1.1" stroke-linejoin="miter"/><path d="M885.2,1482.47 L891.67,1493.8 L878.73,1493.8 Z" fill="#008080"/><path d="M902.8,1484.17 L912.5,1501.17 L893.1,1501.17 Z" fill="#fff" stroke="#008080" stroke-width="1.1" stroke-linejoin="miter"/><path d="M902.8,1484.17 L909.27,1495.5 L896.33,1495.5 Z" fill="#008080"/><path d="M920.3,1484.67 L930,1501.67 L910.6,1501.67 Z" fill="#fff" stroke="#008080" stroke-width="1.1" stroke-linejoin="miter"/><path d="M920.3,1484.67 L926.77,1496 L913.83,1496 Z" fill="#008080"/><path d="M938.5,1484.57 L948.2,1501.57 L928.8,1501.57 Z" fill="#fff" stroke="#008080" stroke-width="1.1" stroke-linejoin="miter"/><path d="M938.5,1484.57 L944.97,1495.9 L932.03,1495.9 Z" fill="#008080"/><path d="M957.5,1484.97 L967.2,1501.97 L947.8,1501.97 Z" fill="#fff" stroke="#008080" stroke-width="1.1" stroke-linejoin="miter"/><path d="M957.5,1484.97 L963.97,1496.3 L951.03,1496.3 Z" fill="#008080"/><path d="M975.2,1484.17 L984.9,1501.17 L965.5,1501.17 Z" fill="#fff" stroke="#008080" stroke-width="1.1" stroke-linejoin="miter"/><path d="M975.2,1484.17 L981.67,1495.5 L968.73,1495.5 Z" fill="#008080"/><path d="M993.3,1484.97 L1003,1501.97 L983.6,1501.97 Z" fill="#fff" stroke="#008080" stroke-width="1.1" stroke-linejoin="miter"/><path d="M993.3,1484.97 L999.77,1496.3 L986.83,1496.3 Z" fill="#008080"/><path d="M1011,1484.97 L1020.7,1501.97 L1001.3,1501.97 Z" fill="#fff" stroke="#008080" stroke-width="1.1" stroke-linejoin="miter"/><path d="M1011,1484.97 L1017.47,1496.3 L1004.53,1496.3 Z" fill="#008080"/><path d="M1029.2,1485.47 L1038.9,1502.47 L1019.5,1502.47 Z" fill="#fff" stroke="#008080" stroke-width="1.1" stroke-linejoin="miter"/><path d="M1029.2,1485.47 L1035.67,1496.8 L1022.73,1496.8 Z" fill="#008080"/><path d="M1047.2,1486.67 L1056.9,1503.67 L1037.5,1503.67 Z" fill="#fff" stroke="#008080" stroke-width="1.1" stroke-linejoin="miter"/><path d="M1047.2,1486.67 L1053.67,1498 L1040.73,1498 Z" fill="#008080"/><path d="M1065.3,1487.37 L1075,1504.37 L1055.6,1504.37 Z" fill="#fff" stroke="#008080" stroke-width="1.1" stroke-linejoin="miter"/><path d="M1065.3,1487.37 L1071.77,1498.7 L1058.83,1498.7 Z" fill="#008080"/><path d="M1083,1487.37 L1092.7,1504.37 L1073.3,1504.37 Z" fill="#fff" stroke="#008080" stroke-width="1.1" stroke-linejoin="miter"/><path d="M1083,1487.37 L1089.47,1498.7 L1076.53,1498.7 Z" fill="#008080"/><path d="M1101.2,1487.37 L1110.9,1504.37 L1091.5,1504.37 Z" fill="#fff" stroke="#008080" stroke-width="1.1" stroke-linejoin="miter"/><path d="M1101.2,1487.37 L1107.67,1498.7 L1094.73,1498.7 Z" fill="#008080"/><path d="M1121,1489.07 L1130.7,1506.07 L1111.3,1506.07 Z" fill="#fff" stroke="#008080" stroke-width="1.1" stroke-linejoin="miter"/><path d="M1121,1489.07 L1127.47,1500.4 L1114.53,1500.4 Z" fill="#008080"/><path d="M1137.6,1489.77 L1147.3,1506.77 L1127.9,1506.77 Z" fill="#fff" stroke="#008080" stroke-width="1.1" stroke-linejoin="miter"/><path d="M1137.6,1489.77 L1144.07,1501.1 L1131.13,1501.1 Z" fill="#008080"/><path d="M1155.3,1490.27 L1165,1507.27 L1145.6,1507.27 Z" fill="#fff" stroke="#008080" stroke-width="1.1" stroke-linejoin="miter"/><path d="M1155.3,1490.27 L1161.77,1501.6 L1148.83,1501.6 Z" fill="#008080"/><path d="M1173.2,1490.77 L1182.9,1507.77 L1163.5,1507.77 Z" fill="#fff" stroke="#008080" stroke-width="1.1" stroke-linejoin="miter"/><path d="M1173.2,1490.77 L1179.67,1502.1 L1166.73,1502.1 Z" fill="#008080"/><path d="M1191.4,1491.47 L1201.1,1508.47 L1181.7,1508.47 Z" fill="#fff" stroke="#008080" stroke-width="1.1" stroke-linejoin="miter"/><path d="M1191.4,1491.47 L1197.87,1502.8 L1184.93,1502.8 Z" fill="#008080"/><path d="M1209.1,1490.77 L1218.8,1507.77 L1199.4,1507.77 Z" fill="#fff" stroke="#008080" stroke-width="1.1" stroke-linejoin="miter"/><path d="M1209.1,1490.77 L1215.57,1502.1 L1202.63,1502.1 Z" fill="#008080"/><path d="M1227.3,1491.47 L1237,1508.47 L1217.6,1508.47 Z" fill="#fff" stroke="#008080" stroke-width="1.1" stroke-linejoin="miter"/><path d="M1227.3,1491.47 L1233.77,1502.8 L1220.83,1502.8 Z" fill="#008080"/><path d="M1245.5,1491.47 L1255.2,1508.47 L1235.8,1508.47 Z" fill="#fff" stroke="#008080" stroke-width="1.1" stroke-linejoin="miter"/><path d="M1245.5,1491.47 L1251.97,1502.8 L1239.03,1502.8 Z" fill="#008080"/></g>
<rect x="129" y="1249.3" width="1126" height="320.7" fill="none" stroke="#000" stroke-width="2.8"/>
<line x1="352.2" y1="1570" x2="352.2" y2="1561.9" stroke="#000" stroke-width="2.8" stroke-linecap="round"/>
<line x1="577.9" y1="1570" x2="577.9" y2="1561.9" stroke="#000" stroke-width="2.8" stroke-linecap="round"/>
<line x1="803.6" y1="1570" x2="803.6" y2="1561.9" stroke="#000" stroke-width="2.8" stroke-linecap="round"/>
<line x1="1029.3" y1="1570" x2="1029.3" y2="1561.9" stroke="#000" stroke-width="2.8" stroke-linecap="round"/>
<line x1="239.35" y1="1570" x2="239.35" y2="1566" stroke="#000" stroke-width="2.8" stroke-linecap="round"/>
<line x1="465.05" y1="1570" x2="465.05" y2="1566" stroke="#000" stroke-width="2.8" stroke-linecap="round"/>
<line x1="690.75" y1="1570" x2="690.75" y2="1566" stroke="#000" stroke-width="2.8" stroke-linecap="round"/>
<line x1="916.45" y1="1570" x2="916.45" y2="1566" stroke="#000" stroke-width="2.8" stroke-linecap="round"/>
<line x1="1142.15" y1="1570" x2="1142.15" y2="1566" stroke="#000" stroke-width="2.8" stroke-linecap="round"/>
<line x1="129" y1="1489.83" x2="137.1" y2="1489.83" stroke="#000" stroke-width="2.8" stroke-linecap="round"/>
<line x1="129" y1="1409.65" x2="137.1" y2="1409.65" stroke="#000" stroke-width="2.8" stroke-linecap="round"/>
<line x1="129" y1="1329.47" x2="137.1" y2="1329.47" stroke="#000" stroke-width="2.8" stroke-linecap="round"/>
<line x1="129" y1="1529.91" x2="133" y2="1529.91" stroke="#000" stroke-width="2.8" stroke-linecap="round"/>
<line x1="129" y1="1449.74" x2="133" y2="1449.74" stroke="#000" stroke-width="2.8" stroke-linecap="round"/>
<line x1="129" y1="1369.56" x2="133" y2="1369.56" stroke="#000" stroke-width="2.8" stroke-linecap="round"/>
<line x1="129" y1="1289.39" x2="133" y2="1289.39" stroke="#000" stroke-width="2.8" stroke-linecap="round"/>
<text x="352.2" y="1609" font-size="33.8" text-anchor="middle" fill="#000" >100</text>
<text x="577.9" y="1609" font-size="33.8" text-anchor="middle" fill="#000" >200</text>
<text x="803.6" y="1609" font-size="33.8" text-anchor="middle" fill="#000" >300</text>
<text x="1029.3" y="1609" font-size="33.8" text-anchor="middle" fill="#000" >400</text>
<text x="1255" y="1609" font-size="33.8" text-anchor="middle" fill="#000" >500</text>
<text x="115" y="1580.6" font-size="33.8" text-anchor="end" fill="#000" >100</text>
<text x="115" y="1500.42" font-size="33.8" text-anchor="end" fill="#000" >150</text>
<text x="115" y="1420.25" font-size="33.8" text-anchor="end" fill="#000" >200</text>
<text x="115" y="1340.07" font-size="33.8" text-anchor="end" fill="#000" >250</text>
<text x="115" y="1259.9" font-size="33.8" text-anchor="end" fill="#000" >300</text>
<text x="692.5" y="1653.2" font-size="33.5" text-anchor="middle">Cycle number</text>
<text transform="translate(29.5,1410) rotate(-90)" font-size="33.5" text-anchor="middle">Capacity (mAh g<tspan dy="-13" font-size="23.5">−1</tspan><tspan dy="13">)</tspan></text>
<line x1="143.4" y1="1276.3" x2="211.7" y2="1276.3" stroke="#008080" stroke-width="3.2" stroke-linecap="round"/>
<path d="M177.5,1264.3 L187.65,1282.3 L167.35,1282.3 Z" fill="#fff" stroke="#008080" stroke-width="1.1" stroke-linejoin="miter"/><path d="M177.5,1264.3 L184.27,1276.3 L170.73,1276.3 Z" fill="#008080"/>
<line x1="143.4" y1="1312.1" x2="211.7" y2="1312.1" stroke="#ed1c24" stroke-width="3.2" stroke-linecap="round"/>
<circle cx="177.3" cy="1312.1" r="8.7" fill="#fff"/><path d="M168.6,1312.1 A8.7,8.7 0 0 1 186,1312.1 Z" fill="#ed1c24"/><circle cx="177.3" cy="1312.1" r="8.15" fill="none" stroke="#ee3b2b" stroke-width="1.1"/>
<text x="225" y="1286.1" font-size="29.5" text-anchor="start" fill="#008080" >TNO</text>
<text x="225" y="1319.6" font-size="29.5" text-anchor="start" fill="#ed1c24" >TNO<tspan dy="8.8" font-size="20.4">-x</tspan><tspan dy="-8.8" dx="3.0" font-size="24.2">@</tspan><tspan dx="3.0">C</tspan><tspan dy="8.8" font-size="20.4">3</tspan></text>
<text x="2" y="30" font-size="42" font-weight="bold">a</text>
<text x="762" y="30" font-size="42" font-weight="bold">b</text>
<text x="2" y="638" font-size="42" font-weight="bold">c</text>
<text x="762" y="638" font-size="42" font-weight="bold">d</text>
<text x="2" y="1243" font-size="42" font-weight="bold">e</text>
</svg>
</body></html>
